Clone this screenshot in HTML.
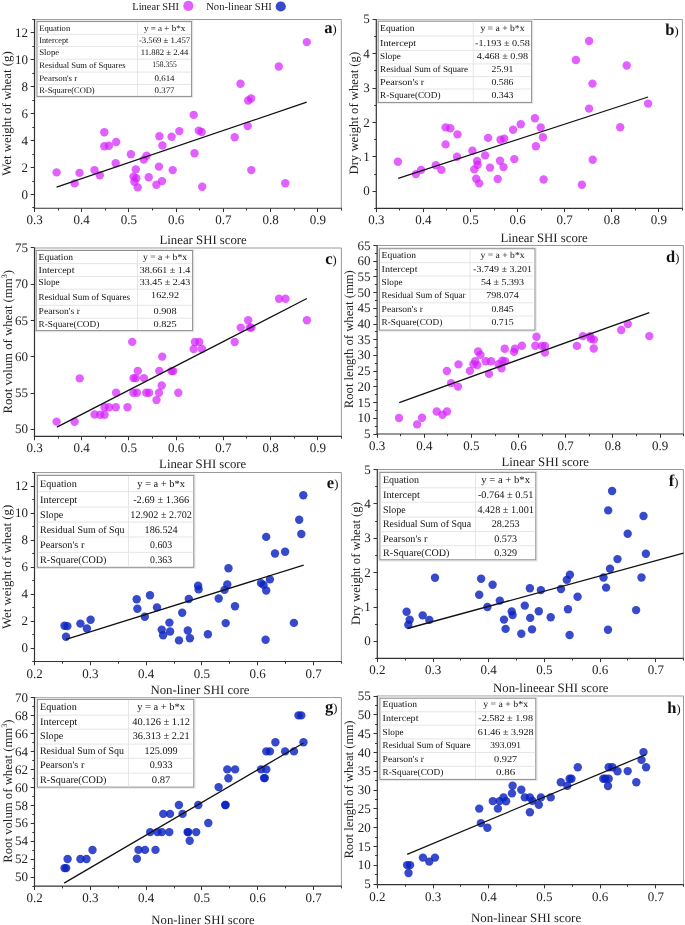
<!DOCTYPE html>
<html><head><meta charset="utf-8"><title>SHI regression plots</title>
<style>
html,body{margin:0;padding:0;background:#fff;}
svg{display:block;font-family:"Liberation Serif", serif;text-rendering:geometricPrecision;will-change:transform;}
</style></head>
<body>
<svg width="685" height="925" viewBox="0 0 685 925">
<rect width="685" height="925" fill="#fff"/>
<path d="M34.50 19.50 H341.30 V208.25" fill="none" stroke="#999" stroke-width="1"/>
<rect x="35.80" y="20.40" width="157.00" height="77.20" fill="none" stroke="#e6e6e6" stroke-width="1"/>
<rect x="37.00" y="21.60" width="154.60" height="74.80" fill="#fff" stroke="#8c8c8c" stroke-width="1"/>
<line x1="37.50" y1="34.40" x2="191.10" y2="34.40" stroke="#e3e3e3" stroke-width="0.9"/>
<line x1="37.50" y1="46.50" x2="191.10" y2="46.50" stroke="#e3e3e3" stroke-width="0.9"/>
<line x1="37.50" y1="59.20" x2="191.10" y2="59.20" stroke="#e3e3e3" stroke-width="0.9"/>
<line x1="37.50" y1="72.10" x2="191.10" y2="72.10" stroke="#e3e3e3" stroke-width="0.9"/>
<line x1="37.50" y1="84.50" x2="191.10" y2="84.50" stroke="#e3e3e3" stroke-width="0.9"/>
<line x1="137.50" y1="22.10" x2="137.50" y2="95.90" stroke="#e3e3e3" stroke-width="0.9"/>
<text x="39.20" y="30.55" font-size="8.5" text-anchor="start" font-weight="normal" fill="#111" textLength="31.0" lengthAdjust="spacingAndGlyphs">Equation</text>
<text x="164.55" y="30.55" font-size="8.5" text-anchor="middle" font-weight="normal" fill="#111" textLength="41.3" lengthAdjust="spacingAndGlyphs">y = a + b*x</text>
<text x="39.20" y="43.00" font-size="8.5" text-anchor="start" font-weight="normal" fill="#111" textLength="29.1" lengthAdjust="spacingAndGlyphs">Intercept</text>
<text x="164.55" y="43.00" font-size="8.5" text-anchor="middle" font-weight="normal" fill="#111" textLength="51.3" lengthAdjust="spacingAndGlyphs">-3.569 ± 1.457</text>
<text x="39.20" y="55.40" font-size="8.5" text-anchor="start" font-weight="normal" fill="#111" textLength="20.0" lengthAdjust="spacingAndGlyphs">Slope</text>
<text x="164.55" y="55.40" font-size="8.5" text-anchor="middle" font-weight="normal" fill="#111" textLength="47.6" lengthAdjust="spacingAndGlyphs">11.882 ± 2.44</text>
<text x="39.20" y="68.20" font-size="8.5" text-anchor="start" font-weight="normal" fill="#111" textLength="86.4" lengthAdjust="spacingAndGlyphs">Residual Sum of Squares</text>
<text x="164.55" y="67.20" font-size="8.5" text-anchor="middle" font-weight="normal" fill="#111" textLength="24.5" lengthAdjust="spacingAndGlyphs">158.355</text>
<text x="39.20" y="80.85" font-size="8.5" text-anchor="start" font-weight="normal" fill="#111" textLength="38.0" lengthAdjust="spacingAndGlyphs">Pearson's r</text>
<text x="164.55" y="80.85" font-size="8.5" text-anchor="middle" font-weight="normal" fill="#111" textLength="20.0" lengthAdjust="spacingAndGlyphs">0.614</text>
<text x="39.20" y="93.00" font-size="8.5" text-anchor="start" font-weight="normal" fill="#111" textLength="55.5" lengthAdjust="spacingAndGlyphs">R-Square(COD)</text>
<text x="164.55" y="93.00" font-size="8.5" text-anchor="middle" font-weight="normal" fill="#111" textLength="20.0" lengthAdjust="spacingAndGlyphs">0.377</text>
<line x1="34.50" y1="19.20" x2="34.50" y2="208.85" stroke="#333" stroke-width="1.2"/>
<line x1="33.90" y1="208.25" x2="341.60" y2="208.25" stroke="#333" stroke-width="1.2"/>
<line x1="30.70" y1="194.50" x2="34.50" y2="194.50" stroke="#333" stroke-width="1.0"/>
<text x="27.90" y="198.52" font-size="13.0" text-anchor="end" font-weight="normal" fill="#222" >0</text>
<line x1="30.70" y1="167.50" x2="34.50" y2="167.50" stroke="#333" stroke-width="1.0"/>
<text x="27.90" y="171.54" font-size="13.0" text-anchor="end" font-weight="normal" fill="#222" >2</text>
<line x1="30.70" y1="140.50" x2="34.50" y2="140.50" stroke="#333" stroke-width="1.0"/>
<text x="27.90" y="144.56" font-size="13.0" text-anchor="end" font-weight="normal" fill="#222" >4</text>
<line x1="30.70" y1="113.50" x2="34.50" y2="113.50" stroke="#333" stroke-width="1.0"/>
<text x="27.90" y="117.58" font-size="13.0" text-anchor="end" font-weight="normal" fill="#222" >6</text>
<line x1="30.70" y1="86.50" x2="34.50" y2="86.50" stroke="#333" stroke-width="1.0"/>
<text x="27.90" y="90.60" font-size="13.0" text-anchor="end" font-weight="normal" fill="#222" >8</text>
<line x1="30.70" y1="59.50" x2="34.50" y2="59.50" stroke="#333" stroke-width="1.0"/>
<text x="27.90" y="63.62" font-size="13.0" text-anchor="end" font-weight="normal" fill="#222" >10</text>
<line x1="30.70" y1="32.50" x2="34.50" y2="32.50" stroke="#333" stroke-width="1.0"/>
<text x="27.90" y="36.64" font-size="13.0" text-anchor="end" font-weight="normal" fill="#222" >12</text>
<line x1="32.30" y1="207.50" x2="34.50" y2="207.50" stroke="#333" stroke-width="1.0"/>
<line x1="32.30" y1="181.50" x2="34.50" y2="181.50" stroke="#333" stroke-width="1.0"/>
<line x1="32.30" y1="154.50" x2="34.50" y2="154.50" stroke="#333" stroke-width="1.0"/>
<line x1="32.30" y1="127.50" x2="34.50" y2="127.50" stroke="#333" stroke-width="1.0"/>
<line x1="32.30" y1="100.50" x2="34.50" y2="100.50" stroke="#333" stroke-width="1.0"/>
<line x1="32.30" y1="73.50" x2="34.50" y2="73.50" stroke="#333" stroke-width="1.0"/>
<line x1="32.30" y1="46.50" x2="34.50" y2="46.50" stroke="#333" stroke-width="1.0"/>
<line x1="32.30" y1="19.50" x2="34.50" y2="19.50" stroke="#333" stroke-width="1.0"/>
<line x1="34.50" y1="208.25" x2="34.50" y2="212.05" stroke="#333" stroke-width="1.0"/>
<text x="34.50" y="224.25" font-size="13.0" text-anchor="middle" font-weight="normal" fill="#222" >0.3</text>
<line x1="81.50" y1="208.25" x2="81.50" y2="212.05" stroke="#333" stroke-width="1.0"/>
<text x="81.72" y="224.25" font-size="13.0" text-anchor="middle" font-weight="normal" fill="#222" >0.4</text>
<line x1="128.50" y1="208.25" x2="128.50" y2="212.05" stroke="#333" stroke-width="1.0"/>
<text x="128.94" y="224.25" font-size="13.0" text-anchor="middle" font-weight="normal" fill="#222" >0.5</text>
<line x1="176.50" y1="208.25" x2="176.50" y2="212.05" stroke="#333" stroke-width="1.0"/>
<text x="176.16" y="224.25" font-size="13.0" text-anchor="middle" font-weight="normal" fill="#222" >0.6</text>
<line x1="223.50" y1="208.25" x2="223.50" y2="212.05" stroke="#333" stroke-width="1.0"/>
<text x="223.38" y="224.25" font-size="13.0" text-anchor="middle" font-weight="normal" fill="#222" >0.7</text>
<line x1="270.50" y1="208.25" x2="270.50" y2="212.05" stroke="#333" stroke-width="1.0"/>
<text x="270.60" y="224.25" font-size="13.0" text-anchor="middle" font-weight="normal" fill="#222" >0.8</text>
<line x1="317.50" y1="208.25" x2="317.50" y2="212.05" stroke="#333" stroke-width="1.0"/>
<text x="317.82" y="224.25" font-size="13.0" text-anchor="middle" font-weight="normal" fill="#222" >0.9</text>
<line x1="58.50" y1="208.25" x2="58.50" y2="210.45" stroke="#333" stroke-width="1.0"/>
<line x1="105.50" y1="208.25" x2="105.50" y2="210.45" stroke="#333" stroke-width="1.0"/>
<line x1="152.50" y1="208.25" x2="152.50" y2="210.45" stroke="#333" stroke-width="1.0"/>
<line x1="199.50" y1="208.25" x2="199.50" y2="210.45" stroke="#333" stroke-width="1.0"/>
<line x1="246.50" y1="208.25" x2="246.50" y2="210.45" stroke="#333" stroke-width="1.0"/>
<line x1="294.50" y1="208.25" x2="294.50" y2="210.45" stroke="#333" stroke-width="1.0"/>
<line x1="341.50" y1="208.25" x2="341.50" y2="210.45" stroke="#333" stroke-width="1.0"/>
<circle cx="56.6" cy="172.4" r="4.2" fill="#d51cff" fill-opacity="0.7"/>
<circle cx="74.6" cy="183.4" r="4.2" fill="#d51cff" fill-opacity="0.7"/>
<circle cx="79.5" cy="172.9" r="4.2" fill="#d51cff" fill-opacity="0.7"/>
<circle cx="94.5" cy="170.1" r="4.2" fill="#d51cff" fill-opacity="0.7"/>
<circle cx="99.8" cy="175.2" r="4.2" fill="#d51cff" fill-opacity="0.7"/>
<circle cx="104.3" cy="132.2" r="4.2" fill="#d51cff" fill-opacity="0.7"/>
<circle cx="104.3" cy="146.3" r="4.2" fill="#d51cff" fill-opacity="0.7"/>
<circle cx="109.0" cy="145.8" r="4.2" fill="#d51cff" fill-opacity="0.7"/>
<circle cx="116.2" cy="142.0" r="4.2" fill="#d51cff" fill-opacity="0.7"/>
<circle cx="115.7" cy="163.3" r="4.2" fill="#d51cff" fill-opacity="0.7"/>
<circle cx="130.9" cy="154.2" r="4.2" fill="#d51cff" fill-opacity="0.7"/>
<circle cx="135.8" cy="169.4" r="4.2" fill="#d51cff" fill-opacity="0.7"/>
<circle cx="133.5" cy="176.6" r="4.2" fill="#d51cff" fill-opacity="0.7"/>
<circle cx="136.3" cy="178.3" r="4.2" fill="#d51cff" fill-opacity="0.7"/>
<circle cx="134.4" cy="181.8" r="4.2" fill="#d51cff" fill-opacity="0.7"/>
<circle cx="137.7" cy="187.4" r="4.2" fill="#d51cff" fill-opacity="0.7"/>
<circle cx="143.8" cy="159.6" r="4.2" fill="#d51cff" fill-opacity="0.7"/>
<circle cx="146.6" cy="155.6" r="4.2" fill="#d51cff" fill-opacity="0.7"/>
<circle cx="148.7" cy="177.3" r="4.2" fill="#d51cff" fill-opacity="0.7"/>
<circle cx="156.4" cy="184.8" r="4.2" fill="#d51cff" fill-opacity="0.7"/>
<circle cx="158.9" cy="166.6" r="4.2" fill="#d51cff" fill-opacity="0.7"/>
<circle cx="159.4" cy="136.2" r="4.2" fill="#d51cff" fill-opacity="0.7"/>
<circle cx="162.0" cy="181.1" r="4.2" fill="#d51cff" fill-opacity="0.7"/>
<circle cx="162.4" cy="145.5" r="4.2" fill="#d51cff" fill-opacity="0.7"/>
<circle cx="171.6" cy="136.7" r="4.2" fill="#d51cff" fill-opacity="0.7"/>
<circle cx="172.7" cy="170.1" r="4.2" fill="#d51cff" fill-opacity="0.7"/>
<circle cx="179.3" cy="131.1" r="4.2" fill="#d51cff" fill-opacity="0.7"/>
<circle cx="193.7" cy="114.9" r="4.2" fill="#d51cff" fill-opacity="0.7"/>
<circle cx="198.8" cy="130.6" r="4.2" fill="#d51cff" fill-opacity="0.7"/>
<circle cx="201.7" cy="132.0" r="4.2" fill="#d51cff" fill-opacity="0.7"/>
<circle cx="194.5" cy="153.2" r="4.2" fill="#d51cff" fill-opacity="0.7"/>
<circle cx="202.2" cy="186.7" r="4.2" fill="#d51cff" fill-opacity="0.7"/>
<circle cx="234.7" cy="137.3" r="4.2" fill="#d51cff" fill-opacity="0.7"/>
<circle cx="240.5" cy="83.8" r="4.2" fill="#d51cff" fill-opacity="0.7"/>
<circle cx="248.2" cy="100.5" r="4.2" fill="#d51cff" fill-opacity="0.7"/>
<circle cx="251.1" cy="98.5" r="4.2" fill="#d51cff" fill-opacity="0.7"/>
<circle cx="247.7" cy="126.0" r="4.2" fill="#d51cff" fill-opacity="0.7"/>
<circle cx="251.3" cy="170.1" r="4.2" fill="#d51cff" fill-opacity="0.7"/>
<circle cx="278.8" cy="66.5" r="4.2" fill="#d51cff" fill-opacity="0.7"/>
<circle cx="285.3" cy="183.3" r="4.2" fill="#d51cff" fill-opacity="0.7"/>
<circle cx="306.8" cy="42.1" r="4.2" fill="#d51cff" fill-opacity="0.7"/>
<line x1="56.60" y1="187.10" x2="306.70" y2="102.20" stroke="#111" stroke-width="1.3"/>
<text x="336.70" y="33.00" text-anchor="end" fill="#111"><tspan font-size="16.5" font-weight="bold">a</tspan><tspan font-size="12.5">)</tspan></text>
<path d="M376.30 19.50 H682.40 V208.30" fill="none" stroke="#999" stroke-width="1"/>
<rect x="377.00" y="20.00" width="155.80" height="83.60" fill="none" stroke="#e6e6e6" stroke-width="1"/>
<rect x="378.20" y="21.20" width="153.40" height="81.20" fill="#fff" stroke="#8c8c8c" stroke-width="1"/>
<line x1="378.70" y1="36.10" x2="531.10" y2="36.10" stroke="#e3e3e3" stroke-width="0.9"/>
<line x1="378.70" y1="50.50" x2="531.10" y2="50.50" stroke="#e3e3e3" stroke-width="0.9"/>
<line x1="378.70" y1="63.90" x2="531.10" y2="63.90" stroke="#e3e3e3" stroke-width="0.9"/>
<line x1="378.70" y1="76.60" x2="531.10" y2="76.60" stroke="#e3e3e3" stroke-width="0.9"/>
<line x1="378.70" y1="89.00" x2="531.10" y2="89.00" stroke="#e3e3e3" stroke-width="0.9"/>
<line x1="473.30" y1="21.70" x2="473.30" y2="101.90" stroke="#e3e3e3" stroke-width="0.9"/>
<text x="380.10" y="30.85" font-size="9.1" text-anchor="start" font-weight="normal" fill="#111" textLength="34.3" lengthAdjust="spacingAndGlyphs">Equation</text>
<text x="502.45" y="30.85" font-size="9.1" text-anchor="middle" font-weight="normal" fill="#111" textLength="44.1" lengthAdjust="spacingAndGlyphs">y = a + b*x</text>
<text x="380.10" y="45.50" font-size="9.1" text-anchor="start" font-weight="normal" fill="#111" textLength="35.9" lengthAdjust="spacingAndGlyphs">Intercept</text>
<text x="502.45" y="45.50" font-size="9.1" text-anchor="middle" font-weight="normal" fill="#111" textLength="54.8" lengthAdjust="spacingAndGlyphs">-1.193 ± 0.58</text>
<text x="380.10" y="59.40" font-size="9.1" text-anchor="start" font-weight="normal" fill="#111" textLength="20.7" lengthAdjust="spacingAndGlyphs">Slope</text>
<text x="502.45" y="59.40" font-size="9.1" text-anchor="middle" font-weight="normal" fill="#111" textLength="51.3" lengthAdjust="spacingAndGlyphs">4.468 ± 0.98</text>
<text x="380.10" y="72.45" font-size="9.1" text-anchor="start" font-weight="normal" fill="#111" textLength="88.0" lengthAdjust="spacingAndGlyphs">Residual Sum of Square</text>
<text x="502.45" y="72.45" font-size="9.1" text-anchor="middle" font-weight="normal" fill="#111" textLength="21.7" lengthAdjust="spacingAndGlyphs">25.91</text>
<text x="380.10" y="85.00" font-size="9.1" text-anchor="start" font-weight="normal" fill="#111" textLength="44.1" lengthAdjust="spacingAndGlyphs">Pearson's r</text>
<text x="502.45" y="85.00" font-size="9.1" text-anchor="middle" font-weight="normal" fill="#111" textLength="22.1" lengthAdjust="spacingAndGlyphs">0.586</text>
<text x="380.10" y="97.90" font-size="9.1" text-anchor="start" font-weight="normal" fill="#111" textLength="60.4" lengthAdjust="spacingAndGlyphs">R-Square(COD)</text>
<text x="502.45" y="97.90" font-size="9.1" text-anchor="middle" font-weight="normal" fill="#111" textLength="22.1" lengthAdjust="spacingAndGlyphs">0.343</text>
<line x1="376.30" y1="19.20" x2="376.30" y2="208.90" stroke="#333" stroke-width="1.2"/>
<line x1="375.70" y1="208.30" x2="682.70" y2="208.30" stroke="#333" stroke-width="1.2"/>
<line x1="372.50" y1="191.50" x2="376.30" y2="191.50" stroke="#333" stroke-width="1.0"/>
<text x="369.70" y="195.22" font-size="13.0" text-anchor="end" font-weight="normal" fill="#222" >0</text>
<line x1="372.50" y1="156.50" x2="376.30" y2="156.50" stroke="#333" stroke-width="1.0"/>
<text x="369.70" y="160.86" font-size="13.0" text-anchor="end" font-weight="normal" fill="#222" >1</text>
<line x1="372.50" y1="122.50" x2="376.30" y2="122.50" stroke="#333" stroke-width="1.0"/>
<text x="369.70" y="126.50" font-size="13.0" text-anchor="end" font-weight="normal" fill="#222" >2</text>
<line x1="372.50" y1="88.50" x2="376.30" y2="88.50" stroke="#333" stroke-width="1.0"/>
<text x="369.70" y="92.14" font-size="13.0" text-anchor="end" font-weight="normal" fill="#222" >3</text>
<line x1="372.50" y1="53.50" x2="376.30" y2="53.50" stroke="#333" stroke-width="1.0"/>
<text x="369.70" y="57.78" font-size="13.0" text-anchor="end" font-weight="normal" fill="#222" >4</text>
<line x1="372.50" y1="19.50" x2="376.30" y2="19.50" stroke="#333" stroke-width="1.0"/>
<text x="369.70" y="23.42" font-size="13.0" text-anchor="end" font-weight="normal" fill="#222" >5</text>
<line x1="374.10" y1="208.50" x2="376.30" y2="208.50" stroke="#333" stroke-width="1.0"/>
<line x1="374.10" y1="174.50" x2="376.30" y2="174.50" stroke="#333" stroke-width="1.0"/>
<line x1="374.10" y1="139.50" x2="376.30" y2="139.50" stroke="#333" stroke-width="1.0"/>
<line x1="374.10" y1="105.50" x2="376.30" y2="105.50" stroke="#333" stroke-width="1.0"/>
<line x1="374.10" y1="70.50" x2="376.30" y2="70.50" stroke="#333" stroke-width="1.0"/>
<line x1="374.10" y1="36.50" x2="376.30" y2="36.50" stroke="#333" stroke-width="1.0"/>
<line x1="376.50" y1="208.30" x2="376.50" y2="212.10" stroke="#333" stroke-width="1.0"/>
<text x="376.30" y="224.30" font-size="13.0" text-anchor="middle" font-weight="normal" fill="#222" >0.3</text>
<line x1="423.50" y1="208.30" x2="423.50" y2="212.10" stroke="#333" stroke-width="1.0"/>
<text x="423.40" y="224.30" font-size="13.0" text-anchor="middle" font-weight="normal" fill="#222" >0.4</text>
<line x1="470.50" y1="208.30" x2="470.50" y2="212.10" stroke="#333" stroke-width="1.0"/>
<text x="470.50" y="224.30" font-size="13.0" text-anchor="middle" font-weight="normal" fill="#222" >0.5</text>
<line x1="517.50" y1="208.30" x2="517.50" y2="212.10" stroke="#333" stroke-width="1.0"/>
<text x="517.60" y="224.30" font-size="13.0" text-anchor="middle" font-weight="normal" fill="#222" >0.6</text>
<line x1="564.50" y1="208.30" x2="564.50" y2="212.10" stroke="#333" stroke-width="1.0"/>
<text x="564.70" y="224.30" font-size="13.0" text-anchor="middle" font-weight="normal" fill="#222" >0.7</text>
<line x1="611.50" y1="208.30" x2="611.50" y2="212.10" stroke="#333" stroke-width="1.0"/>
<text x="611.80" y="224.30" font-size="13.0" text-anchor="middle" font-weight="normal" fill="#222" >0.8</text>
<line x1="658.50" y1="208.30" x2="658.50" y2="212.10" stroke="#333" stroke-width="1.0"/>
<text x="658.90" y="224.30" font-size="13.0" text-anchor="middle" font-weight="normal" fill="#222" >0.9</text>
<line x1="399.50" y1="208.30" x2="399.50" y2="210.50" stroke="#333" stroke-width="1.0"/>
<line x1="446.50" y1="208.30" x2="446.50" y2="210.50" stroke="#333" stroke-width="1.0"/>
<line x1="494.50" y1="208.30" x2="494.50" y2="210.50" stroke="#333" stroke-width="1.0"/>
<line x1="541.50" y1="208.30" x2="541.50" y2="210.50" stroke="#333" stroke-width="1.0"/>
<line x1="588.50" y1="208.30" x2="588.50" y2="210.50" stroke="#333" stroke-width="1.0"/>
<line x1="635.50" y1="208.30" x2="635.50" y2="210.50" stroke="#333" stroke-width="1.0"/>
<line x1="682.50" y1="208.30" x2="682.50" y2="210.50" stroke="#333" stroke-width="1.0"/>
<circle cx="397.9" cy="161.7" r="4.2" fill="#d51cff" fill-opacity="0.7"/>
<circle cx="415.9" cy="174.1" r="4.2" fill="#d51cff" fill-opacity="0.7"/>
<circle cx="421.1" cy="169.9" r="4.2" fill="#d51cff" fill-opacity="0.7"/>
<circle cx="435.8" cy="165.2" r="4.2" fill="#d51cff" fill-opacity="0.7"/>
<circle cx="441.4" cy="169.9" r="4.2" fill="#d51cff" fill-opacity="0.7"/>
<circle cx="445.6" cy="127.4" r="4.2" fill="#d51cff" fill-opacity="0.7"/>
<circle cx="445.6" cy="144.4" r="4.2" fill="#d51cff" fill-opacity="0.7"/>
<circle cx="450.3" cy="128.3" r="4.2" fill="#d51cff" fill-opacity="0.7"/>
<circle cx="457.5" cy="134.4" r="4.2" fill="#d51cff" fill-opacity="0.7"/>
<circle cx="457.0" cy="156.8" r="4.2" fill="#d51cff" fill-opacity="0.7"/>
<circle cx="472.4" cy="150.7" r="4.2" fill="#d51cff" fill-opacity="0.7"/>
<circle cx="477.1" cy="161.0" r="4.2" fill="#d51cff" fill-opacity="0.7"/>
<circle cx="477.6" cy="164.7" r="4.2" fill="#d51cff" fill-opacity="0.7"/>
<circle cx="474.3" cy="169.4" r="4.2" fill="#d51cff" fill-opacity="0.7"/>
<circle cx="476.2" cy="178.8" r="4.2" fill="#d51cff" fill-opacity="0.7"/>
<circle cx="479.2" cy="183.4" r="4.2" fill="#d51cff" fill-opacity="0.7"/>
<circle cx="485.1" cy="155.4" r="4.2" fill="#d51cff" fill-opacity="0.7"/>
<circle cx="488.1" cy="137.9" r="4.2" fill="#d51cff" fill-opacity="0.7"/>
<circle cx="490.0" cy="167.6" r="4.2" fill="#d51cff" fill-opacity="0.7"/>
<circle cx="497.7" cy="179.0" r="4.2" fill="#d51cff" fill-opacity="0.7"/>
<circle cx="500.0" cy="160.8" r="4.2" fill="#d51cff" fill-opacity="0.7"/>
<circle cx="500.5" cy="139.8" r="4.2" fill="#d51cff" fill-opacity="0.7"/>
<circle cx="503.5" cy="167.1" r="4.2" fill="#d51cff" fill-opacity="0.7"/>
<circle cx="504.2" cy="138.6" r="4.2" fill="#d51cff" fill-opacity="0.7"/>
<circle cx="513.1" cy="129.7" r="4.2" fill="#d51cff" fill-opacity="0.7"/>
<circle cx="514.3" cy="159.1" r="4.2" fill="#d51cff" fill-opacity="0.7"/>
<circle cx="520.8" cy="124.3" r="4.2" fill="#d51cff" fill-opacity="0.7"/>
<circle cx="534.9" cy="118.3" r="4.2" fill="#d51cff" fill-opacity="0.7"/>
<circle cx="540.7" cy="127.4" r="4.2" fill="#d51cff" fill-opacity="0.7"/>
<circle cx="542.9" cy="137.3" r="4.2" fill="#d51cff" fill-opacity="0.7"/>
<circle cx="535.9" cy="146.2" r="4.2" fill="#d51cff" fill-opacity="0.7"/>
<circle cx="543.6" cy="179.5" r="4.2" fill="#d51cff" fill-opacity="0.7"/>
<circle cx="575.9" cy="60.0" r="4.2" fill="#d51cff" fill-opacity="0.7"/>
<circle cx="589.1" cy="41.0" r="4.2" fill="#d51cff" fill-opacity="0.7"/>
<circle cx="589.1" cy="108.6" r="4.2" fill="#d51cff" fill-opacity="0.7"/>
<circle cx="592.5" cy="83.6" r="4.2" fill="#d51cff" fill-opacity="0.7"/>
<circle cx="592.7" cy="159.7" r="4.2" fill="#d51cff" fill-opacity="0.7"/>
<circle cx="581.9" cy="184.8" r="4.2" fill="#d51cff" fill-opacity="0.7"/>
<circle cx="626.7" cy="65.5" r="4.2" fill="#d51cff" fill-opacity="0.7"/>
<circle cx="620.2" cy="127.2" r="4.2" fill="#d51cff" fill-opacity="0.7"/>
<circle cx="648.1" cy="103.6" r="4.2" fill="#d51cff" fill-opacity="0.7"/>
<line x1="398.20" y1="178.30" x2="648.10" y2="97.00" stroke="#111" stroke-width="1.3"/>
<text x="678.70" y="34.80" text-anchor="end" fill="#111"><tspan font-size="16.5" font-weight="bold">b</tspan><tspan font-size="12.5">)</tspan></text>
<path d="M34.50 248.00 H341.40 V436.40" fill="none" stroke="#999" stroke-width="1"/>
<rect x="35.00" y="249.30" width="158.80" height="82.50" fill="none" stroke="#e6e6e6" stroke-width="1"/>
<rect x="36.20" y="250.50" width="156.40" height="80.10" fill="#fff" stroke="#8c8c8c" stroke-width="1"/>
<line x1="36.70" y1="263.60" x2="192.10" y2="263.60" stroke="#e3e3e3" stroke-width="0.9"/>
<line x1="36.70" y1="276.50" x2="192.10" y2="276.50" stroke="#e3e3e3" stroke-width="0.9"/>
<line x1="36.70" y1="289.20" x2="192.10" y2="289.20" stroke="#e3e3e3" stroke-width="0.9"/>
<line x1="36.70" y1="305.30" x2="192.10" y2="305.30" stroke="#e3e3e3" stroke-width="0.9"/>
<line x1="36.70" y1="318.20" x2="192.10" y2="318.20" stroke="#e3e3e3" stroke-width="0.9"/>
<line x1="137.50" y1="251.00" x2="137.50" y2="330.10" stroke="#e3e3e3" stroke-width="0.9"/>
<text x="38.60" y="259.50" font-size="9.2" text-anchor="start" font-weight="normal" fill="#111" textLength="34.3" lengthAdjust="spacingAndGlyphs">Equation</text>
<text x="165.05" y="259.50" font-size="9.2" text-anchor="middle" font-weight="normal" fill="#111" textLength="44.1" lengthAdjust="spacingAndGlyphs">y = a + b*x</text>
<text x="38.60" y="272.50" font-size="9.2" text-anchor="start" font-weight="normal" fill="#111" textLength="35.9" lengthAdjust="spacingAndGlyphs">Intercept</text>
<text x="165.05" y="272.50" font-size="9.2" text-anchor="middle" font-weight="normal" fill="#111" textLength="50.6" lengthAdjust="spacingAndGlyphs">38.661 ± 1.4</text>
<text x="38.60" y="285.30" font-size="9.2" text-anchor="start" font-weight="normal" fill="#111" textLength="21.0" lengthAdjust="spacingAndGlyphs">Slope</text>
<text x="165.05" y="285.30" font-size="9.2" text-anchor="middle" font-weight="normal" fill="#111" textLength="50.6" lengthAdjust="spacingAndGlyphs">33.45 ± 2.43</text>
<text x="38.60" y="299.70" font-size="9.2" text-anchor="start" font-weight="normal" fill="#111" textLength="91.5" lengthAdjust="spacingAndGlyphs">Residual Sum of Squares</text>
<text x="165.05" y="298.20" font-size="9.2" text-anchor="middle" font-weight="normal" fill="#111" textLength="28.0" lengthAdjust="spacingAndGlyphs">162.92</text>
<text x="38.60" y="314.20" font-size="9.2" text-anchor="start" font-weight="normal" fill="#111" textLength="41.3" lengthAdjust="spacingAndGlyphs">Pearson's r</text>
<text x="165.05" y="314.20" font-size="9.2" text-anchor="middle" font-weight="normal" fill="#111" textLength="23.1" lengthAdjust="spacingAndGlyphs">0.908</text>
<text x="38.60" y="326.85" font-size="9.2" text-anchor="start" font-weight="normal" fill="#111" textLength="60.7" lengthAdjust="spacingAndGlyphs">R-Square(COD)</text>
<text x="165.05" y="326.85" font-size="9.2" text-anchor="middle" font-weight="normal" fill="#111" textLength="23.1" lengthAdjust="spacingAndGlyphs">0.825</text>
<line x1="34.50" y1="247.70" x2="34.50" y2="437.00" stroke="#333" stroke-width="1.2"/>
<line x1="33.90" y1="436.40" x2="341.70" y2="436.40" stroke="#333" stroke-width="1.2"/>
<line x1="30.70" y1="429.50" x2="34.50" y2="429.50" stroke="#333" stroke-width="1.0"/>
<text x="27.90" y="433.42" font-size="13.0" text-anchor="end" font-weight="normal" fill="#222" >50</text>
<line x1="30.70" y1="393.50" x2="34.50" y2="393.50" stroke="#333" stroke-width="1.0"/>
<text x="27.90" y="397.14" font-size="13.0" text-anchor="end" font-weight="normal" fill="#222" >55</text>
<line x1="30.70" y1="356.50" x2="34.50" y2="356.50" stroke="#333" stroke-width="1.0"/>
<text x="27.90" y="360.86" font-size="13.0" text-anchor="end" font-weight="normal" fill="#222" >60</text>
<line x1="30.70" y1="320.50" x2="34.50" y2="320.50" stroke="#333" stroke-width="1.0"/>
<text x="27.90" y="324.58" font-size="13.0" text-anchor="end" font-weight="normal" fill="#222" >65</text>
<line x1="30.70" y1="284.50" x2="34.50" y2="284.50" stroke="#333" stroke-width="1.0"/>
<text x="27.90" y="288.30" font-size="13.0" text-anchor="end" font-weight="normal" fill="#222" >70</text>
<line x1="30.70" y1="247.50" x2="34.50" y2="247.50" stroke="#333" stroke-width="1.0"/>
<text x="27.90" y="252.02" font-size="13.0" text-anchor="end" font-weight="normal" fill="#222" >75</text>
<line x1="34.50" y1="436.40" x2="34.50" y2="440.20" stroke="#333" stroke-width="1.0"/>
<text x="34.50" y="452.40" font-size="13.0" text-anchor="middle" font-weight="normal" fill="#222" >0.3</text>
<line x1="81.50" y1="436.40" x2="81.50" y2="440.20" stroke="#333" stroke-width="1.0"/>
<text x="81.72" y="452.40" font-size="13.0" text-anchor="middle" font-weight="normal" fill="#222" >0.4</text>
<line x1="128.50" y1="436.40" x2="128.50" y2="440.20" stroke="#333" stroke-width="1.0"/>
<text x="128.94" y="452.40" font-size="13.0" text-anchor="middle" font-weight="normal" fill="#222" >0.5</text>
<line x1="176.50" y1="436.40" x2="176.50" y2="440.20" stroke="#333" stroke-width="1.0"/>
<text x="176.16" y="452.40" font-size="13.0" text-anchor="middle" font-weight="normal" fill="#222" >0.6</text>
<line x1="223.50" y1="436.40" x2="223.50" y2="440.20" stroke="#333" stroke-width="1.0"/>
<text x="223.38" y="452.40" font-size="13.0" text-anchor="middle" font-weight="normal" fill="#222" >0.7</text>
<line x1="270.50" y1="436.40" x2="270.50" y2="440.20" stroke="#333" stroke-width="1.0"/>
<text x="270.60" y="452.40" font-size="13.0" text-anchor="middle" font-weight="normal" fill="#222" >0.8</text>
<line x1="317.50" y1="436.40" x2="317.50" y2="440.20" stroke="#333" stroke-width="1.0"/>
<text x="317.82" y="452.40" font-size="13.0" text-anchor="middle" font-weight="normal" fill="#222" >0.9</text>
<line x1="58.50" y1="436.40" x2="58.50" y2="438.60" stroke="#333" stroke-width="1.0"/>
<line x1="105.50" y1="436.40" x2="105.50" y2="438.60" stroke="#333" stroke-width="1.0"/>
<line x1="152.50" y1="436.40" x2="152.50" y2="438.60" stroke="#333" stroke-width="1.0"/>
<line x1="199.50" y1="436.40" x2="199.50" y2="438.60" stroke="#333" stroke-width="1.0"/>
<line x1="246.50" y1="436.40" x2="246.50" y2="438.60" stroke="#333" stroke-width="1.0"/>
<line x1="294.50" y1="436.40" x2="294.50" y2="438.60" stroke="#333" stroke-width="1.0"/>
<line x1="341.50" y1="436.40" x2="341.50" y2="438.60" stroke="#333" stroke-width="1.0"/>
<circle cx="56.6" cy="421.6" r="4.2" fill="#d51cff" fill-opacity="0.7"/>
<circle cx="74.6" cy="421.8" r="4.2" fill="#d51cff" fill-opacity="0.7"/>
<circle cx="79.7" cy="378.4" r="4.2" fill="#d51cff" fill-opacity="0.7"/>
<circle cx="94.6" cy="414.5" r="4.2" fill="#d51cff" fill-opacity="0.7"/>
<circle cx="100.2" cy="414.8" r="4.2" fill="#d51cff" fill-opacity="0.7"/>
<circle cx="104.6" cy="414.8" r="4.2" fill="#d51cff" fill-opacity="0.7"/>
<circle cx="104.6" cy="407.3" r="4.2" fill="#d51cff" fill-opacity="0.7"/>
<circle cx="109.0" cy="407.3" r="4.2" fill="#d51cff" fill-opacity="0.7"/>
<circle cx="115.8" cy="407.3" r="4.2" fill="#d51cff" fill-opacity="0.7"/>
<circle cx="116.1" cy="392.7" r="4.2" fill="#d51cff" fill-opacity="0.7"/>
<circle cx="127.5" cy="407.3" r="4.2" fill="#d51cff" fill-opacity="0.7"/>
<circle cx="132.2" cy="341.9" r="4.2" fill="#d51cff" fill-opacity="0.7"/>
<circle cx="133.4" cy="392.7" r="4.2" fill="#d51cff" fill-opacity="0.7"/>
<circle cx="136.9" cy="392.7" r="4.2" fill="#d51cff" fill-opacity="0.7"/>
<circle cx="133.5" cy="378.1" r="4.2" fill="#d51cff" fill-opacity="0.7"/>
<circle cx="135.8" cy="378.1" r="4.2" fill="#d51cff" fill-opacity="0.7"/>
<circle cx="137.8" cy="370.9" r="4.2" fill="#d51cff" fill-opacity="0.7"/>
<circle cx="143.9" cy="378.1" r="4.2" fill="#d51cff" fill-opacity="0.7"/>
<circle cx="146.2" cy="392.7" r="4.2" fill="#d51cff" fill-opacity="0.7"/>
<circle cx="149.1" cy="392.7" r="4.2" fill="#d51cff" fill-opacity="0.7"/>
<circle cx="156.5" cy="400.1" r="4.2" fill="#d51cff" fill-opacity="0.7"/>
<circle cx="159.0" cy="392.7" r="4.2" fill="#d51cff" fill-opacity="0.7"/>
<circle cx="161.7" cy="385.5" r="4.2" fill="#d51cff" fill-opacity="0.7"/>
<circle cx="159.3" cy="370.9" r="4.2" fill="#d51cff" fill-opacity="0.7"/>
<circle cx="162.2" cy="356.6" r="4.2" fill="#d51cff" fill-opacity="0.7"/>
<circle cx="171.5" cy="371.1" r="4.2" fill="#d51cff" fill-opacity="0.7"/>
<circle cx="173.3" cy="371.1" r="4.2" fill="#d51cff" fill-opacity="0.7"/>
<circle cx="178.3" cy="392.7" r="4.2" fill="#d51cff" fill-opacity="0.7"/>
<circle cx="194.9" cy="342.0" r="4.2" fill="#d51cff" fill-opacity="0.7"/>
<circle cx="199.3" cy="342.0" r="4.2" fill="#d51cff" fill-opacity="0.7"/>
<circle cx="193.7" cy="349.0" r="4.2" fill="#d51cff" fill-opacity="0.7"/>
<circle cx="201.9" cy="349.0" r="4.2" fill="#d51cff" fill-opacity="0.7"/>
<circle cx="234.7" cy="342.0" r="4.2" fill="#d51cff" fill-opacity="0.7"/>
<circle cx="240.7" cy="327.6" r="4.2" fill="#d51cff" fill-opacity="0.7"/>
<circle cx="248.2" cy="320.3" r="4.2" fill="#d51cff" fill-opacity="0.7"/>
<circle cx="249.9" cy="327.6" r="4.2" fill="#d51cff" fill-opacity="0.7"/>
<circle cx="251.5" cy="327.6" r="4.2" fill="#d51cff" fill-opacity="0.7"/>
<circle cx="279.0" cy="298.7" r="4.2" fill="#d51cff" fill-opacity="0.7"/>
<circle cx="285.5" cy="298.7" r="4.2" fill="#d51cff" fill-opacity="0.7"/>
<circle cx="306.9" cy="320.3" r="4.2" fill="#d51cff" fill-opacity="0.7"/>
<line x1="56.90" y1="427.10" x2="306.90" y2="298.50" stroke="#111" stroke-width="1.3"/>
<text x="336.70" y="263.80" text-anchor="end" fill="#111"><tspan font-size="16.5" font-weight="bold">c</tspan><tspan font-size="12.5">)</tspan></text>
<path d="M377.10 245.50 H683.40 V434.00" fill="none" stroke="#999" stroke-width="1"/>
<rect x="378.20" y="247.50" width="158.00" height="83.80" fill="none" stroke="#e6e6e6" stroke-width="1"/>
<rect x="379.40" y="248.70" width="155.60" height="81.40" fill="#fff" stroke="#8c8c8c" stroke-width="1"/>
<line x1="379.90" y1="262.60" x2="534.50" y2="262.60" stroke="#e3e3e3" stroke-width="0.9"/>
<line x1="379.90" y1="276.00" x2="534.50" y2="276.00" stroke="#e3e3e3" stroke-width="0.9"/>
<line x1="379.90" y1="289.20" x2="534.50" y2="289.20" stroke="#e3e3e3" stroke-width="0.9"/>
<line x1="379.90" y1="302.80" x2="534.50" y2="302.80" stroke="#e3e3e3" stroke-width="0.9"/>
<line x1="379.90" y1="316.00" x2="534.50" y2="316.00" stroke="#e3e3e3" stroke-width="0.9"/>
<line x1="470.00" y1="249.20" x2="470.00" y2="329.60" stroke="#e3e3e3" stroke-width="0.9"/>
<text x="381.60" y="258.05" font-size="9.2" text-anchor="start" font-weight="normal" fill="#111" textLength="34.3" lengthAdjust="spacingAndGlyphs">Equation</text>
<text x="502.50" y="258.05" font-size="9.2" text-anchor="middle" font-weight="normal" fill="#111" textLength="44.1" lengthAdjust="spacingAndGlyphs">y = a + b*x</text>
<text x="381.60" y="271.70" font-size="9.2" text-anchor="start" font-weight="normal" fill="#111" textLength="35.9" lengthAdjust="spacingAndGlyphs">Intercept</text>
<text x="502.50" y="271.70" font-size="9.2" text-anchor="middle" font-weight="normal" fill="#111" textLength="58.8" lengthAdjust="spacingAndGlyphs">-3.749 ± 3.201</text>
<text x="381.60" y="285.00" font-size="9.2" text-anchor="start" font-weight="normal" fill="#111" textLength="21.0" lengthAdjust="spacingAndGlyphs">Slope</text>
<text x="502.50" y="285.00" font-size="9.2" text-anchor="middle" font-weight="normal" fill="#111" textLength="42.9" lengthAdjust="spacingAndGlyphs">54 ± 5.393</text>
<text x="381.60" y="298.40" font-size="9.2" text-anchor="start" font-weight="normal" fill="#111" textLength="84.0" lengthAdjust="spacingAndGlyphs">Residual Sum of Squar</text>
<text x="502.50" y="298.40" font-size="9.2" text-anchor="middle" font-weight="normal" fill="#111" textLength="32.6" lengthAdjust="spacingAndGlyphs">798.074</text>
<text x="381.60" y="311.80" font-size="9.2" text-anchor="start" font-weight="normal" fill="#111" textLength="41.3" lengthAdjust="spacingAndGlyphs">Pearson's r</text>
<text x="502.50" y="311.80" font-size="9.2" text-anchor="middle" font-weight="normal" fill="#111" textLength="22.1" lengthAdjust="spacingAndGlyphs">0.845</text>
<text x="381.60" y="325.45" font-size="9.2" text-anchor="start" font-weight="normal" fill="#111" textLength="60.7" lengthAdjust="spacingAndGlyphs">R-Square(COD)</text>
<text x="502.50" y="325.45" font-size="9.2" text-anchor="middle" font-weight="normal" fill="#111" textLength="22.1" lengthAdjust="spacingAndGlyphs">0.715</text>
<line x1="377.10" y1="245.20" x2="377.10" y2="434.60" stroke="#333" stroke-width="1.2"/>
<line x1="376.50" y1="434.00" x2="683.70" y2="434.00" stroke="#333" stroke-width="1.2"/>
<line x1="373.30" y1="434.50" x2="377.10" y2="434.50" stroke="#333" stroke-width="1.0"/>
<text x="370.50" y="438.03" font-size="13.0" text-anchor="end" font-weight="normal" fill="#222" >5</text>
<line x1="373.30" y1="418.50" x2="377.10" y2="418.50" stroke="#333" stroke-width="1.0"/>
<text x="370.50" y="422.32" font-size="13.0" text-anchor="end" font-weight="normal" fill="#222" >10</text>
<line x1="373.30" y1="402.50" x2="377.10" y2="402.50" stroke="#333" stroke-width="1.0"/>
<text x="370.50" y="406.61" font-size="13.0" text-anchor="end" font-weight="normal" fill="#222" >15</text>
<line x1="373.30" y1="386.50" x2="377.10" y2="386.50" stroke="#333" stroke-width="1.0"/>
<text x="370.50" y="390.90" font-size="13.0" text-anchor="end" font-weight="normal" fill="#222" >20</text>
<line x1="373.30" y1="371.50" x2="377.10" y2="371.50" stroke="#333" stroke-width="1.0"/>
<text x="370.50" y="375.19" font-size="13.0" text-anchor="end" font-weight="normal" fill="#222" >25</text>
<line x1="373.30" y1="355.50" x2="377.10" y2="355.50" stroke="#333" stroke-width="1.0"/>
<text x="370.50" y="359.48" font-size="13.0" text-anchor="end" font-weight="normal" fill="#222" >30</text>
<line x1="373.30" y1="339.50" x2="377.10" y2="339.50" stroke="#333" stroke-width="1.0"/>
<text x="370.50" y="343.77" font-size="13.0" text-anchor="end" font-weight="normal" fill="#222" >35</text>
<line x1="373.30" y1="324.50" x2="377.10" y2="324.50" stroke="#333" stroke-width="1.0"/>
<text x="370.50" y="328.06" font-size="13.0" text-anchor="end" font-weight="normal" fill="#222" >40</text>
<line x1="373.30" y1="308.50" x2="377.10" y2="308.50" stroke="#333" stroke-width="1.0"/>
<text x="370.50" y="312.35" font-size="13.0" text-anchor="end" font-weight="normal" fill="#222" >45</text>
<line x1="373.30" y1="292.50" x2="377.10" y2="292.50" stroke="#333" stroke-width="1.0"/>
<text x="370.50" y="296.64" font-size="13.0" text-anchor="end" font-weight="normal" fill="#222" >50</text>
<line x1="373.30" y1="276.50" x2="377.10" y2="276.50" stroke="#333" stroke-width="1.0"/>
<text x="370.50" y="280.93" font-size="13.0" text-anchor="end" font-weight="normal" fill="#222" >55</text>
<line x1="373.30" y1="261.50" x2="377.10" y2="261.50" stroke="#333" stroke-width="1.0"/>
<text x="370.50" y="265.22" font-size="13.0" text-anchor="end" font-weight="normal" fill="#222" >60</text>
<line x1="373.30" y1="245.50" x2="377.10" y2="245.50" stroke="#333" stroke-width="1.0"/>
<text x="370.50" y="249.51" font-size="13.0" text-anchor="end" font-weight="normal" fill="#222" >65</text>
<line x1="374.90" y1="426.50" x2="377.10" y2="426.50" stroke="#333" stroke-width="1.0"/>
<line x1="374.90" y1="410.50" x2="377.10" y2="410.50" stroke="#333" stroke-width="1.0"/>
<line x1="374.90" y1="394.50" x2="377.10" y2="394.50" stroke="#333" stroke-width="1.0"/>
<line x1="374.90" y1="379.50" x2="377.10" y2="379.50" stroke="#333" stroke-width="1.0"/>
<line x1="374.90" y1="363.50" x2="377.10" y2="363.50" stroke="#333" stroke-width="1.0"/>
<line x1="374.90" y1="347.50" x2="377.10" y2="347.50" stroke="#333" stroke-width="1.0"/>
<line x1="374.90" y1="331.50" x2="377.10" y2="331.50" stroke="#333" stroke-width="1.0"/>
<line x1="374.90" y1="316.50" x2="377.10" y2="316.50" stroke="#333" stroke-width="1.0"/>
<line x1="374.90" y1="300.50" x2="377.10" y2="300.50" stroke="#333" stroke-width="1.0"/>
<line x1="374.90" y1="284.50" x2="377.10" y2="284.50" stroke="#333" stroke-width="1.0"/>
<line x1="374.90" y1="269.50" x2="377.10" y2="269.50" stroke="#333" stroke-width="1.0"/>
<line x1="374.90" y1="253.50" x2="377.10" y2="253.50" stroke="#333" stroke-width="1.0"/>
<line x1="377.50" y1="434.00" x2="377.50" y2="437.80" stroke="#333" stroke-width="1.0"/>
<text x="377.10" y="450.00" font-size="13.0" text-anchor="middle" font-weight="normal" fill="#222" >0.3</text>
<line x1="424.50" y1="434.00" x2="424.50" y2="437.80" stroke="#333" stroke-width="1.0"/>
<text x="424.26" y="450.00" font-size="13.0" text-anchor="middle" font-weight="normal" fill="#222" >0.4</text>
<line x1="471.50" y1="434.00" x2="471.50" y2="437.80" stroke="#333" stroke-width="1.0"/>
<text x="471.42" y="450.00" font-size="13.0" text-anchor="middle" font-weight="normal" fill="#222" >0.5</text>
<line x1="518.50" y1="434.00" x2="518.50" y2="437.80" stroke="#333" stroke-width="1.0"/>
<text x="518.58" y="450.00" font-size="13.0" text-anchor="middle" font-weight="normal" fill="#222" >0.6</text>
<line x1="565.50" y1="434.00" x2="565.50" y2="437.80" stroke="#333" stroke-width="1.0"/>
<text x="565.74" y="450.00" font-size="13.0" text-anchor="middle" font-weight="normal" fill="#222" >0.7</text>
<line x1="612.50" y1="434.00" x2="612.50" y2="437.80" stroke="#333" stroke-width="1.0"/>
<text x="612.90" y="450.00" font-size="13.0" text-anchor="middle" font-weight="normal" fill="#222" >0.8</text>
<line x1="660.50" y1="434.00" x2="660.50" y2="437.80" stroke="#333" stroke-width="1.0"/>
<text x="660.06" y="450.00" font-size="13.0" text-anchor="middle" font-weight="normal" fill="#222" >0.9</text>
<line x1="400.50" y1="434.00" x2="400.50" y2="436.20" stroke="#333" stroke-width="1.0"/>
<line x1="447.50" y1="434.00" x2="447.50" y2="436.20" stroke="#333" stroke-width="1.0"/>
<line x1="495.50" y1="434.00" x2="495.50" y2="436.20" stroke="#333" stroke-width="1.0"/>
<line x1="542.50" y1="434.00" x2="542.50" y2="436.20" stroke="#333" stroke-width="1.0"/>
<line x1="589.50" y1="434.00" x2="589.50" y2="436.20" stroke="#333" stroke-width="1.0"/>
<line x1="636.50" y1="434.00" x2="636.50" y2="436.20" stroke="#333" stroke-width="1.0"/>
<line x1="683.50" y1="434.00" x2="683.50" y2="436.20" stroke="#333" stroke-width="1.0"/>
<circle cx="399.0" cy="418.0" r="4.2" fill="#d51cff" fill-opacity="0.7"/>
<circle cx="417.1" cy="424.4" r="4.2" fill="#d51cff" fill-opacity="0.7"/>
<circle cx="422.0" cy="417.8" r="4.2" fill="#d51cff" fill-opacity="0.7"/>
<circle cx="436.7" cy="411.5" r="4.2" fill="#d51cff" fill-opacity="0.7"/>
<circle cx="442.5" cy="414.8" r="4.2" fill="#d51cff" fill-opacity="0.7"/>
<circle cx="447.0" cy="411.5" r="4.2" fill="#d51cff" fill-opacity="0.7"/>
<circle cx="446.9" cy="371.0" r="4.2" fill="#d51cff" fill-opacity="0.7"/>
<circle cx="451.1" cy="383.1" r="4.2" fill="#d51cff" fill-opacity="0.7"/>
<circle cx="458.5" cy="364.4" r="4.2" fill="#d51cff" fill-opacity="0.7"/>
<circle cx="458.0" cy="386.6" r="4.2" fill="#d51cff" fill-opacity="0.7"/>
<circle cx="469.9" cy="370.9" r="4.2" fill="#d51cff" fill-opacity="0.7"/>
<circle cx="473.4" cy="364.2" r="4.2" fill="#d51cff" fill-opacity="0.7"/>
<circle cx="475.2" cy="361.3" r="4.2" fill="#d51cff" fill-opacity="0.7"/>
<circle cx="477.3" cy="365.1" r="4.2" fill="#d51cff" fill-opacity="0.7"/>
<circle cx="478.1" cy="351.4" r="4.2" fill="#d51cff" fill-opacity="0.7"/>
<circle cx="480.4" cy="354.9" r="4.2" fill="#d51cff" fill-opacity="0.7"/>
<circle cx="485.7" cy="361.3" r="4.2" fill="#d51cff" fill-opacity="0.7"/>
<circle cx="491.0" cy="361.3" r="4.2" fill="#d51cff" fill-opacity="0.7"/>
<circle cx="489.0" cy="373.9" r="4.2" fill="#d51cff" fill-opacity="0.7"/>
<circle cx="498.5" cy="364.2" r="4.2" fill="#d51cff" fill-opacity="0.7"/>
<circle cx="501.5" cy="368.3" r="4.2" fill="#d51cff" fill-opacity="0.7"/>
<circle cx="502.3" cy="360.7" r="4.2" fill="#d51cff" fill-opacity="0.7"/>
<circle cx="505.0" cy="361.3" r="4.2" fill="#d51cff" fill-opacity="0.7"/>
<circle cx="504.7" cy="348.8" r="4.2" fill="#d51cff" fill-opacity="0.7"/>
<circle cx="514.0" cy="351.9" r="4.2" fill="#d51cff" fill-opacity="0.7"/>
<circle cx="514.9" cy="348.8" r="4.2" fill="#d51cff" fill-opacity="0.7"/>
<circle cx="521.9" cy="345.7" r="4.2" fill="#d51cff" fill-opacity="0.7"/>
<circle cx="535.3" cy="345.7" r="4.2" fill="#d51cff" fill-opacity="0.7"/>
<circle cx="536.5" cy="336.8" r="4.2" fill="#d51cff" fill-opacity="0.7"/>
<circle cx="541.8" cy="345.9" r="4.2" fill="#d51cff" fill-opacity="0.7"/>
<circle cx="544.9" cy="345.9" r="4.2" fill="#d51cff" fill-opacity="0.7"/>
<circle cx="544.9" cy="352.5" r="4.2" fill="#d51cff" fill-opacity="0.7"/>
<circle cx="576.9" cy="345.9" r="4.2" fill="#d51cff" fill-opacity="0.7"/>
<circle cx="582.9" cy="336.1" r="4.2" fill="#d51cff" fill-opacity="0.7"/>
<circle cx="590.0" cy="336.1" r="4.2" fill="#d51cff" fill-opacity="0.7"/>
<circle cx="590.9" cy="338.9" r="4.2" fill="#d51cff" fill-opacity="0.7"/>
<circle cx="593.9" cy="339.6" r="4.2" fill="#d51cff" fill-opacity="0.7"/>
<circle cx="593.7" cy="348.5" r="4.2" fill="#d51cff" fill-opacity="0.7"/>
<circle cx="621.2" cy="330.0" r="4.2" fill="#d51cff" fill-opacity="0.7"/>
<circle cx="627.8" cy="324.0" r="4.2" fill="#d51cff" fill-opacity="0.7"/>
<circle cx="649.3" cy="336.1" r="4.2" fill="#d51cff" fill-opacity="0.7"/>
<line x1="399.20" y1="402.60" x2="649.30" y2="312.60" stroke="#111" stroke-width="1.3"/>
<text x="679.40" y="262.40" text-anchor="end" fill="#111"><tspan font-size="16.5" font-weight="bold">d</tspan><tspan font-size="12.5">)</tspan></text>
<path d="M34.50 472.50 H341.40 V661.50" fill="none" stroke="#999" stroke-width="1"/>
<rect x="36.20" y="474.20" width="158.80" height="94.30" fill="none" stroke="#e6e6e6" stroke-width="1"/>
<rect x="37.40" y="475.40" width="156.40" height="91.90" fill="#fff" stroke="#8c8c8c" stroke-width="1"/>
<line x1="37.90" y1="491.60" x2="193.30" y2="491.60" stroke="#e3e3e3" stroke-width="0.9"/>
<line x1="37.90" y1="507.00" x2="193.30" y2="507.00" stroke="#e3e3e3" stroke-width="0.9"/>
<line x1="37.90" y1="522.10" x2="193.30" y2="522.10" stroke="#e3e3e3" stroke-width="0.9"/>
<line x1="37.90" y1="537.00" x2="193.30" y2="537.00" stroke="#e3e3e3" stroke-width="0.9"/>
<line x1="37.90" y1="552.40" x2="193.30" y2="552.40" stroke="#e3e3e3" stroke-width="0.9"/>
<line x1="128.50" y1="475.90" x2="128.50" y2="566.80" stroke="#e3e3e3" stroke-width="0.9"/>
<text x="40.00" y="486.80" font-size="10.1" text-anchor="start" font-weight="normal" fill="#111" textLength="36.8" lengthAdjust="spacingAndGlyphs">Equation</text>
<text x="161.15" y="486.80" font-size="10.1" text-anchor="middle" font-weight="normal" fill="#111" textLength="47.6" lengthAdjust="spacingAndGlyphs">y = a + b*x</text>
<text x="40.00" y="502.60" font-size="10.1" text-anchor="start" font-weight="normal" fill="#111" textLength="37.3" lengthAdjust="spacingAndGlyphs">Intercept</text>
<text x="161.15" y="502.60" font-size="10.1" text-anchor="middle" font-weight="normal" fill="#111" textLength="56.0" lengthAdjust="spacingAndGlyphs">-2.69 ± 1.366</text>
<text x="40.00" y="517.85" font-size="10.1" text-anchor="start" font-weight="normal" fill="#111" textLength="23.3" lengthAdjust="spacingAndGlyphs">Slope</text>
<text x="161.15" y="517.85" font-size="10.1" text-anchor="middle" font-weight="normal" fill="#111" textLength="61.6" lengthAdjust="spacingAndGlyphs">12.902 ± 2.702</text>
<text x="40.00" y="532.85" font-size="10.1" text-anchor="start" font-weight="normal" fill="#111" textLength="84.5" lengthAdjust="spacingAndGlyphs">Residual Sum of Squ</text>
<text x="161.15" y="532.85" font-size="10.1" text-anchor="middle" font-weight="normal" fill="#111" textLength="33.1" lengthAdjust="spacingAndGlyphs">186.524</text>
<text x="40.00" y="548.00" font-size="10.1" text-anchor="start" font-weight="normal" fill="#111" textLength="44.3" lengthAdjust="spacingAndGlyphs">Pearson's r</text>
<text x="161.15" y="548.00" font-size="10.1" text-anchor="middle" font-weight="normal" fill="#111" textLength="22.1" lengthAdjust="spacingAndGlyphs">0.603</text>
<text x="40.00" y="563.15" font-size="10.1" text-anchor="start" font-weight="normal" fill="#111" textLength="66.5" lengthAdjust="spacingAndGlyphs">R-Square(COD)</text>
<text x="161.15" y="563.15" font-size="10.1" text-anchor="middle" font-weight="normal" fill="#111" textLength="22.1" lengthAdjust="spacingAndGlyphs">0.363</text>
<line x1="34.50" y1="472.20" x2="34.50" y2="662.10" stroke="#333" stroke-width="1.2"/>
<line x1="33.90" y1="661.50" x2="341.70" y2="661.50" stroke="#333" stroke-width="1.2"/>
<line x1="30.70" y1="648.50" x2="34.50" y2="648.50" stroke="#333" stroke-width="1.0"/>
<text x="27.90" y="652.02" font-size="13.0" text-anchor="end" font-weight="normal" fill="#222" >0</text>
<line x1="30.70" y1="621.50" x2="34.50" y2="621.50" stroke="#333" stroke-width="1.0"/>
<text x="27.90" y="625.07" font-size="13.0" text-anchor="end" font-weight="normal" fill="#222" >2</text>
<line x1="30.70" y1="594.50" x2="34.50" y2="594.50" stroke="#333" stroke-width="1.0"/>
<text x="27.90" y="598.12" font-size="13.0" text-anchor="end" font-weight="normal" fill="#222" >4</text>
<line x1="30.70" y1="567.50" x2="34.50" y2="567.50" stroke="#333" stroke-width="1.0"/>
<text x="27.90" y="571.17" font-size="13.0" text-anchor="end" font-weight="normal" fill="#222" >6</text>
<line x1="30.70" y1="540.50" x2="34.50" y2="540.50" stroke="#333" stroke-width="1.0"/>
<text x="27.90" y="544.22" font-size="13.0" text-anchor="end" font-weight="normal" fill="#222" >8</text>
<line x1="30.70" y1="513.50" x2="34.50" y2="513.50" stroke="#333" stroke-width="1.0"/>
<text x="27.90" y="517.27" font-size="13.0" text-anchor="end" font-weight="normal" fill="#222" >10</text>
<line x1="30.70" y1="486.50" x2="34.50" y2="486.50" stroke="#333" stroke-width="1.0"/>
<text x="27.90" y="490.32" font-size="13.0" text-anchor="end" font-weight="normal" fill="#222" >12</text>
<line x1="32.30" y1="661.50" x2="34.50" y2="661.50" stroke="#333" stroke-width="1.0"/>
<line x1="32.30" y1="634.50" x2="34.50" y2="634.50" stroke="#333" stroke-width="1.0"/>
<line x1="32.30" y1="607.50" x2="34.50" y2="607.50" stroke="#333" stroke-width="1.0"/>
<line x1="32.30" y1="580.50" x2="34.50" y2="580.50" stroke="#333" stroke-width="1.0"/>
<line x1="32.30" y1="553.50" x2="34.50" y2="553.50" stroke="#333" stroke-width="1.0"/>
<line x1="32.30" y1="526.50" x2="34.50" y2="526.50" stroke="#333" stroke-width="1.0"/>
<line x1="32.30" y1="499.50" x2="34.50" y2="499.50" stroke="#333" stroke-width="1.0"/>
<line x1="32.30" y1="472.50" x2="34.50" y2="472.50" stroke="#333" stroke-width="1.0"/>
<line x1="34.50" y1="661.50" x2="34.50" y2="665.30" stroke="#333" stroke-width="1.0"/>
<text x="34.50" y="677.50" font-size="13.0" text-anchor="middle" font-weight="normal" fill="#222" >0.2</text>
<line x1="90.50" y1="661.50" x2="90.50" y2="665.30" stroke="#333" stroke-width="1.0"/>
<text x="90.30" y="677.50" font-size="13.0" text-anchor="middle" font-weight="normal" fill="#222" >0.3</text>
<line x1="146.50" y1="661.50" x2="146.50" y2="665.30" stroke="#333" stroke-width="1.0"/>
<text x="146.10" y="677.50" font-size="13.0" text-anchor="middle" font-weight="normal" fill="#222" >0.4</text>
<line x1="201.50" y1="661.50" x2="201.50" y2="665.30" stroke="#333" stroke-width="1.0"/>
<text x="201.90" y="677.50" font-size="13.0" text-anchor="middle" font-weight="normal" fill="#222" >0.5</text>
<line x1="257.50" y1="661.50" x2="257.50" y2="665.30" stroke="#333" stroke-width="1.0"/>
<text x="257.70" y="677.50" font-size="13.0" text-anchor="middle" font-weight="normal" fill="#222" >0.6</text>
<line x1="313.50" y1="661.50" x2="313.50" y2="665.30" stroke="#333" stroke-width="1.0"/>
<text x="313.50" y="677.50" font-size="13.0" text-anchor="middle" font-weight="normal" fill="#222" >0.7</text>
<line x1="62.50" y1="661.50" x2="62.50" y2="663.70" stroke="#333" stroke-width="1.0"/>
<line x1="118.50" y1="661.50" x2="118.50" y2="663.70" stroke="#333" stroke-width="1.0"/>
<line x1="174.50" y1="661.50" x2="174.50" y2="663.70" stroke="#333" stroke-width="1.0"/>
<line x1="229.50" y1="661.50" x2="229.50" y2="663.70" stroke="#333" stroke-width="1.0"/>
<line x1="285.50" y1="661.50" x2="285.50" y2="663.70" stroke="#333" stroke-width="1.0"/>
<line x1="341.50" y1="661.50" x2="341.50" y2="663.70" stroke="#333" stroke-width="1.0"/>
<circle cx="64.5" cy="625.7" r="4.2" fill="#0a22c0" fill-opacity="0.82"/>
<circle cx="67.4" cy="626.1" r="4.2" fill="#0a22c0" fill-opacity="0.82"/>
<circle cx="66.0" cy="636.7" r="4.2" fill="#0a22c0" fill-opacity="0.82"/>
<circle cx="80.4" cy="623.6" r="4.2" fill="#0a22c0" fill-opacity="0.82"/>
<circle cx="86.9" cy="628.5" r="4.2" fill="#0a22c0" fill-opacity="0.82"/>
<circle cx="90.6" cy="619.8" r="4.2" fill="#0a22c0" fill-opacity="0.82"/>
<circle cx="136.7" cy="599.2" r="4.2" fill="#0a22c0" fill-opacity="0.82"/>
<circle cx="137.4" cy="608.8" r="4.2" fill="#0a22c0" fill-opacity="0.82"/>
<circle cx="150.0" cy="595.3" r="4.2" fill="#0a22c0" fill-opacity="0.82"/>
<circle cx="157.0" cy="607.4" r="4.2" fill="#0a22c0" fill-opacity="0.82"/>
<circle cx="144.8" cy="616.8" r="4.2" fill="#0a22c0" fill-opacity="0.82"/>
<circle cx="169.4" cy="622.6" r="4.2" fill="#0a22c0" fill-opacity="0.82"/>
<circle cx="161.7" cy="629.6" r="4.2" fill="#0a22c0" fill-opacity="0.82"/>
<circle cx="163.1" cy="635.2" r="4.2" fill="#0a22c0" fill-opacity="0.82"/>
<circle cx="170.1" cy="631.5" r="4.2" fill="#0a22c0" fill-opacity="0.82"/>
<circle cx="179.0" cy="640.4" r="4.2" fill="#0a22c0" fill-opacity="0.82"/>
<circle cx="182.2" cy="612.8" r="4.2" fill="#0a22c0" fill-opacity="0.82"/>
<circle cx="187.8" cy="630.5" r="4.2" fill="#0a22c0" fill-opacity="0.82"/>
<circle cx="189.9" cy="638.3" r="4.2" fill="#0a22c0" fill-opacity="0.82"/>
<circle cx="188.8" cy="599.0" r="4.2" fill="#0a22c0" fill-opacity="0.82"/>
<circle cx="198.1" cy="585.7" r="4.2" fill="#0a22c0" fill-opacity="0.82"/>
<circle cx="198.6" cy="589.4" r="4.2" fill="#0a22c0" fill-opacity="0.82"/>
<circle cx="207.9" cy="634.3" r="4.2" fill="#0a22c0" fill-opacity="0.82"/>
<circle cx="218.7" cy="598.5" r="4.2" fill="#0a22c0" fill-opacity="0.82"/>
<circle cx="225.7" cy="623.1" r="4.2" fill="#0a22c0" fill-opacity="0.82"/>
<circle cx="224.5" cy="589.9" r="4.2" fill="#0a22c0" fill-opacity="0.82"/>
<circle cx="227.3" cy="584.5" r="4.2" fill="#0a22c0" fill-opacity="0.82"/>
<circle cx="228.5" cy="568.2" r="4.2" fill="#0a22c0" fill-opacity="0.82"/>
<circle cx="235.0" cy="606.3" r="4.2" fill="#0a22c0" fill-opacity="0.82"/>
<circle cx="265.6" cy="639.7" r="4.2" fill="#0a22c0" fill-opacity="0.82"/>
<circle cx="293.9" cy="622.9" r="4.2" fill="#0a22c0" fill-opacity="0.82"/>
<circle cx="261.0" cy="583.1" r="4.2" fill="#0a22c0" fill-opacity="0.82"/>
<circle cx="263.5" cy="584.9" r="4.2" fill="#0a22c0" fill-opacity="0.82"/>
<circle cx="266.2" cy="590.5" r="4.2" fill="#0a22c0" fill-opacity="0.82"/>
<circle cx="269.9" cy="579.4" r="4.2" fill="#0a22c0" fill-opacity="0.82"/>
<circle cx="266.2" cy="536.9" r="4.2" fill="#0a22c0" fill-opacity="0.82"/>
<circle cx="275.0" cy="553.5" r="4.2" fill="#0a22c0" fill-opacity="0.82"/>
<circle cx="285.1" cy="551.7" r="4.2" fill="#0a22c0" fill-opacity="0.82"/>
<circle cx="299.2" cy="519.7" r="4.2" fill="#0a22c0" fill-opacity="0.82"/>
<circle cx="301.3" cy="534.0" r="4.2" fill="#0a22c0" fill-opacity="0.82"/>
<circle cx="303.3" cy="495.2" r="4.2" fill="#0a22c0" fill-opacity="0.82"/>
<line x1="66.00" y1="639.30" x2="303.70" y2="565.10" stroke="#111" stroke-width="1.3"/>
<text x="338.30" y="488.40" text-anchor="end" fill="#111"><tspan font-size="16.5" font-weight="bold">e</tspan><tspan font-size="12.5">)</tspan></text>
<path d="M377.30 469.50 H683.40 V658.30" fill="none" stroke="#999" stroke-width="1"/>
<rect x="378.70" y="471.20" width="158.30" height="89.80" fill="none" stroke="#e6e6e6" stroke-width="1"/>
<rect x="379.90" y="472.40" width="155.90" height="87.40" fill="#fff" stroke="#8c8c8c" stroke-width="1"/>
<line x1="380.40" y1="487.80" x2="535.30" y2="487.80" stroke="#e3e3e3" stroke-width="0.9"/>
<line x1="380.40" y1="502.20" x2="535.30" y2="502.20" stroke="#e3e3e3" stroke-width="0.9"/>
<line x1="380.40" y1="517.10" x2="535.30" y2="517.10" stroke="#e3e3e3" stroke-width="0.9"/>
<line x1="380.40" y1="531.50" x2="535.30" y2="531.50" stroke="#e3e3e3" stroke-width="0.9"/>
<line x1="380.40" y1="545.70" x2="535.30" y2="545.70" stroke="#e3e3e3" stroke-width="0.9"/>
<line x1="475.50" y1="472.90" x2="475.50" y2="559.30" stroke="#e3e3e3" stroke-width="0.9"/>
<text x="383.00" y="483.00" font-size="10.1" text-anchor="start" font-weight="normal" fill="#111" textLength="36.1" lengthAdjust="spacingAndGlyphs">Equation</text>
<text x="505.65" y="483.00" font-size="10.1" text-anchor="middle" font-weight="normal" fill="#111" textLength="48.8" lengthAdjust="spacingAndGlyphs">y = a + b*x</text>
<text x="383.00" y="497.90" font-size="10.1" text-anchor="start" font-weight="normal" fill="#111" textLength="36.8" lengthAdjust="spacingAndGlyphs">Intercept</text>
<text x="505.65" y="497.90" font-size="10.1" text-anchor="middle" font-weight="normal" fill="#111" textLength="55.5" lengthAdjust="spacingAndGlyphs">-0.764 ± 0.51</text>
<text x="383.00" y="512.55" font-size="10.1" text-anchor="start" font-weight="normal" fill="#111" textLength="22.8" lengthAdjust="spacingAndGlyphs">Slope</text>
<text x="505.65" y="512.55" font-size="10.1" text-anchor="middle" font-weight="normal" fill="#111" textLength="56.5" lengthAdjust="spacingAndGlyphs">4.428 ± 1.001</text>
<text x="383.00" y="527.20" font-size="10.1" text-anchor="start" font-weight="normal" fill="#111" textLength="88.2" lengthAdjust="spacingAndGlyphs">Residual Sum of Squa</text>
<text x="505.65" y="527.20" font-size="10.1" text-anchor="middle" font-weight="normal" fill="#111" textLength="28.0" lengthAdjust="spacingAndGlyphs">28.253</text>
<text x="383.00" y="541.50" font-size="10.1" text-anchor="start" font-weight="normal" fill="#111" textLength="44.3" lengthAdjust="spacingAndGlyphs">Pearson's r</text>
<text x="505.65" y="541.50" font-size="10.1" text-anchor="middle" font-weight="normal" fill="#111" textLength="22.8" lengthAdjust="spacingAndGlyphs">0.573</text>
<text x="383.00" y="555.65" font-size="10.1" text-anchor="start" font-weight="normal" fill="#111" textLength="66.5" lengthAdjust="spacingAndGlyphs">R-Square(COD)</text>
<text x="505.65" y="555.65" font-size="10.1" text-anchor="middle" font-weight="normal" fill="#111" textLength="22.8" lengthAdjust="spacingAndGlyphs">0.329</text>
<line x1="377.30" y1="469.20" x2="377.30" y2="658.90" stroke="#333" stroke-width="1.2"/>
<line x1="376.70" y1="658.30" x2="683.70" y2="658.30" stroke="#333" stroke-width="1.2"/>
<line x1="373.50" y1="641.50" x2="377.30" y2="641.50" stroke="#333" stroke-width="1.0"/>
<text x="370.70" y="645.42" font-size="13.0" text-anchor="end" font-weight="normal" fill="#222" >0</text>
<line x1="373.50" y1="607.50" x2="377.30" y2="607.50" stroke="#333" stroke-width="1.0"/>
<text x="370.70" y="611.04" font-size="13.0" text-anchor="end" font-weight="normal" fill="#222" >1</text>
<line x1="373.50" y1="572.50" x2="377.30" y2="572.50" stroke="#333" stroke-width="1.0"/>
<text x="370.70" y="576.66" font-size="13.0" text-anchor="end" font-weight="normal" fill="#222" >2</text>
<line x1="373.50" y1="538.50" x2="377.30" y2="538.50" stroke="#333" stroke-width="1.0"/>
<text x="370.70" y="542.28" font-size="13.0" text-anchor="end" font-weight="normal" fill="#222" >3</text>
<line x1="373.50" y1="503.50" x2="377.30" y2="503.50" stroke="#333" stroke-width="1.0"/>
<text x="370.70" y="507.90" font-size="13.0" text-anchor="end" font-weight="normal" fill="#222" >4</text>
<line x1="373.50" y1="469.50" x2="377.30" y2="469.50" stroke="#333" stroke-width="1.0"/>
<text x="370.70" y="473.52" font-size="13.0" text-anchor="end" font-weight="normal" fill="#222" >5</text>
<line x1="375.10" y1="658.50" x2="377.30" y2="658.50" stroke="#333" stroke-width="1.0"/>
<line x1="375.10" y1="624.50" x2="377.30" y2="624.50" stroke="#333" stroke-width="1.0"/>
<line x1="375.10" y1="589.50" x2="377.30" y2="589.50" stroke="#333" stroke-width="1.0"/>
<line x1="375.10" y1="555.50" x2="377.30" y2="555.50" stroke="#333" stroke-width="1.0"/>
<line x1="375.10" y1="521.50" x2="377.30" y2="521.50" stroke="#333" stroke-width="1.0"/>
<line x1="375.10" y1="486.50" x2="377.30" y2="486.50" stroke="#333" stroke-width="1.0"/>
<line x1="377.50" y1="658.30" x2="377.50" y2="662.10" stroke="#333" stroke-width="1.0"/>
<text x="377.30" y="674.30" font-size="13.0" text-anchor="middle" font-weight="normal" fill="#222" >0.2</text>
<line x1="433.50" y1="658.30" x2="433.50" y2="662.10" stroke="#333" stroke-width="1.0"/>
<text x="433.00" y="674.30" font-size="13.0" text-anchor="middle" font-weight="normal" fill="#222" >0.3</text>
<line x1="488.50" y1="658.30" x2="488.50" y2="662.10" stroke="#333" stroke-width="1.0"/>
<text x="488.70" y="674.30" font-size="13.0" text-anchor="middle" font-weight="normal" fill="#222" >0.4</text>
<line x1="544.50" y1="658.30" x2="544.50" y2="662.10" stroke="#333" stroke-width="1.0"/>
<text x="544.40" y="674.30" font-size="13.0" text-anchor="middle" font-weight="normal" fill="#222" >0.5</text>
<line x1="600.50" y1="658.30" x2="600.50" y2="662.10" stroke="#333" stroke-width="1.0"/>
<text x="600.10" y="674.30" font-size="13.0" text-anchor="middle" font-weight="normal" fill="#222" >0.6</text>
<line x1="655.50" y1="658.30" x2="655.50" y2="662.10" stroke="#333" stroke-width="1.0"/>
<text x="655.80" y="674.30" font-size="13.0" text-anchor="middle" font-weight="normal" fill="#222" >0.7</text>
<line x1="405.50" y1="658.30" x2="405.50" y2="660.50" stroke="#333" stroke-width="1.0"/>
<line x1="460.50" y1="658.30" x2="460.50" y2="660.50" stroke="#333" stroke-width="1.0"/>
<line x1="516.50" y1="658.30" x2="516.50" y2="660.50" stroke="#333" stroke-width="1.0"/>
<line x1="572.50" y1="658.30" x2="572.50" y2="660.50" stroke="#333" stroke-width="1.0"/>
<line x1="627.50" y1="658.30" x2="627.50" y2="660.50" stroke="#333" stroke-width="1.0"/>
<line x1="683.50" y1="658.30" x2="683.50" y2="660.50" stroke="#333" stroke-width="1.0"/>
<circle cx="406.6" cy="611.7" r="4.2" fill="#0a22c0" fill-opacity="0.82"/>
<circle cx="409.7" cy="619.8" r="4.2" fill="#0a22c0" fill-opacity="0.82"/>
<circle cx="408.3" cy="624.7" r="4.2" fill="#0a22c0" fill-opacity="0.82"/>
<circle cx="422.7" cy="615.4" r="4.2" fill="#0a22c0" fill-opacity="0.82"/>
<circle cx="429.3" cy="619.9" r="4.2" fill="#0a22c0" fill-opacity="0.82"/>
<circle cx="435.0" cy="577.7" r="4.2" fill="#0a22c0" fill-opacity="0.82"/>
<circle cx="481.1" cy="578.7" r="4.2" fill="#0a22c0" fill-opacity="0.82"/>
<circle cx="492.6" cy="584.8" r="4.2" fill="#0a22c0" fill-opacity="0.82"/>
<circle cx="479.2" cy="594.8" r="4.2" fill="#0a22c0" fill-opacity="0.82"/>
<circle cx="487.4" cy="607.0" r="4.2" fill="#0a22c0" fill-opacity="0.82"/>
<circle cx="499.8" cy="600.6" r="4.2" fill="#0a22c0" fill-opacity="0.82"/>
<circle cx="511.7" cy="611.4" r="4.2" fill="#0a22c0" fill-opacity="0.82"/>
<circle cx="512.6" cy="615.1" r="4.2" fill="#0a22c0" fill-opacity="0.82"/>
<circle cx="504.0" cy="619.6" r="4.2" fill="#0a22c0" fill-opacity="0.82"/>
<circle cx="505.6" cy="628.9" r="4.2" fill="#0a22c0" fill-opacity="0.82"/>
<circle cx="521.3" cy="633.8" r="4.2" fill="#0a22c0" fill-opacity="0.82"/>
<circle cx="524.8" cy="605.6" r="4.2" fill="#0a22c0" fill-opacity="0.82"/>
<circle cx="530.2" cy="617.9" r="4.2" fill="#0a22c0" fill-opacity="0.82"/>
<circle cx="532.0" cy="629.4" r="4.2" fill="#0a22c0" fill-opacity="0.82"/>
<circle cx="529.9" cy="588.3" r="4.2" fill="#0a22c0" fill-opacity="0.82"/>
<circle cx="540.9" cy="590.1" r="4.2" fill="#0a22c0" fill-opacity="0.82"/>
<circle cx="538.8" cy="611.2" r="4.2" fill="#0a22c0" fill-opacity="0.82"/>
<circle cx="550.7" cy="617.2" r="4.2" fill="#0a22c0" fill-opacity="0.82"/>
<circle cx="561.0" cy="589.0" r="4.2" fill="#0a22c0" fill-opacity="0.82"/>
<circle cx="566.8" cy="579.9" r="4.2" fill="#0a22c0" fill-opacity="0.82"/>
<circle cx="569.9" cy="574.7" r="4.2" fill="#0a22c0" fill-opacity="0.82"/>
<circle cx="577.6" cy="596.7" r="4.2" fill="#0a22c0" fill-opacity="0.82"/>
<circle cx="568.0" cy="609.3" r="4.2" fill="#0a22c0" fill-opacity="0.82"/>
<circle cx="569.6" cy="635.0" r="4.2" fill="#0a22c0" fill-opacity="0.82"/>
<circle cx="612.1" cy="491.0" r="4.2" fill="#0a22c0" fill-opacity="0.82"/>
<circle cx="608.2" cy="510.4" r="4.2" fill="#0a22c0" fill-opacity="0.82"/>
<circle cx="643.5" cy="516.0" r="4.2" fill="#0a22c0" fill-opacity="0.82"/>
<circle cx="627.7" cy="533.8" r="4.2" fill="#0a22c0" fill-opacity="0.82"/>
<circle cx="645.9" cy="553.7" r="4.2" fill="#0a22c0" fill-opacity="0.82"/>
<circle cx="617.5" cy="559.1" r="4.2" fill="#0a22c0" fill-opacity="0.82"/>
<circle cx="610.0" cy="568.8" r="4.2" fill="#0a22c0" fill-opacity="0.82"/>
<circle cx="603.5" cy="577.5" r="4.2" fill="#0a22c0" fill-opacity="0.82"/>
<circle cx="606.1" cy="587.6" r="4.2" fill="#0a22c0" fill-opacity="0.82"/>
<circle cx="641.5" cy="577.5" r="4.2" fill="#0a22c0" fill-opacity="0.82"/>
<circle cx="636.1" cy="610.1" r="4.2" fill="#0a22c0" fill-opacity="0.82"/>
<circle cx="608.0" cy="629.8" r="4.2" fill="#0a22c0" fill-opacity="0.82"/>
<line x1="407.40" y1="628.50" x2="683.50" y2="553.20" stroke="#111" stroke-width="1.3"/>
<text x="678.30" y="486.40" text-anchor="end" fill="#111"><tspan font-size="16.5" font-weight="bold">f</tspan><tspan font-size="12.5">)</tspan></text>
<path d="M34.50 697.55 H341.40 V886.20" fill="none" stroke="#999" stroke-width="1"/>
<rect x="36.20" y="698.20" width="158.80" height="90.10" fill="none" stroke="#e6e6e6" stroke-width="1"/>
<rect x="37.40" y="699.40" width="156.40" height="87.70" fill="#fff" stroke="#8c8c8c" stroke-width="1"/>
<line x1="37.90" y1="715.10" x2="193.30" y2="715.10" stroke="#e3e3e3" stroke-width="0.9"/>
<line x1="37.90" y1="729.20" x2="193.30" y2="729.20" stroke="#e3e3e3" stroke-width="0.9"/>
<line x1="37.90" y1="744.10" x2="193.30" y2="744.10" stroke="#e3e3e3" stroke-width="0.9"/>
<line x1="37.90" y1="758.30" x2="193.30" y2="758.30" stroke="#e3e3e3" stroke-width="0.9"/>
<line x1="37.90" y1="773.20" x2="193.30" y2="773.20" stroke="#e3e3e3" stroke-width="0.9"/>
<line x1="128.50" y1="699.90" x2="128.50" y2="786.60" stroke="#e3e3e3" stroke-width="0.9"/>
<text x="40.00" y="709.60" font-size="10.1" text-anchor="start" font-weight="normal" fill="#111" textLength="36.8" lengthAdjust="spacingAndGlyphs">Equation</text>
<text x="161.15" y="709.60" font-size="10.1" text-anchor="middle" font-weight="normal" fill="#111" textLength="47.6" lengthAdjust="spacingAndGlyphs">y = a + b*x</text>
<text x="40.00" y="724.50" font-size="10.1" text-anchor="start" font-weight="normal" fill="#111" textLength="37.3" lengthAdjust="spacingAndGlyphs">Intercept</text>
<text x="161.15" y="724.50" font-size="10.1" text-anchor="middle" font-weight="normal" fill="#111" textLength="57.6" lengthAdjust="spacingAndGlyphs">40.126 ± 1.12</text>
<text x="40.00" y="739.00" font-size="10.1" text-anchor="start" font-weight="normal" fill="#111" textLength="23.3" lengthAdjust="spacingAndGlyphs">Slope</text>
<text x="161.15" y="739.00" font-size="10.1" text-anchor="middle" font-weight="normal" fill="#111" textLength="56.9" lengthAdjust="spacingAndGlyphs">36.313 ± 2.21</text>
<text x="40.00" y="753.55" font-size="10.1" text-anchor="start" font-weight="normal" fill="#111" textLength="84.0" lengthAdjust="spacingAndGlyphs">Residual Sum of Squ</text>
<text x="161.15" y="753.55" font-size="10.1" text-anchor="middle" font-weight="normal" fill="#111" textLength="33.1" lengthAdjust="spacingAndGlyphs">125.099</text>
<text x="40.00" y="768.10" font-size="10.1" text-anchor="start" font-weight="normal" fill="#111" textLength="44.3" lengthAdjust="spacingAndGlyphs">Pearson's r</text>
<text x="161.15" y="768.10" font-size="10.1" text-anchor="middle" font-weight="normal" fill="#111" textLength="22.8" lengthAdjust="spacingAndGlyphs">0.933</text>
<text x="40.00" y="782.50" font-size="10.1" text-anchor="start" font-weight="normal" fill="#111" textLength="66.5" lengthAdjust="spacingAndGlyphs">R-Square(COD)</text>
<text x="161.15" y="782.50" font-size="10.1" text-anchor="middle" font-weight="normal" fill="#111" textLength="18.6" lengthAdjust="spacingAndGlyphs">0.87</text>
<line x1="34.50" y1="697.25" x2="34.50" y2="886.80" stroke="#333" stroke-width="1.2"/>
<line x1="33.90" y1="886.20" x2="341.70" y2="886.20" stroke="#333" stroke-width="1.2"/>
<line x1="30.70" y1="877.50" x2="34.50" y2="877.50" stroke="#333" stroke-width="1.0"/>
<text x="27.90" y="881.42" font-size="13.0" text-anchor="end" font-weight="normal" fill="#222" >50</text>
<line x1="30.70" y1="859.50" x2="34.50" y2="859.50" stroke="#333" stroke-width="1.0"/>
<text x="27.90" y="863.44" font-size="13.0" text-anchor="end" font-weight="normal" fill="#222" >52</text>
<line x1="30.70" y1="841.50" x2="34.50" y2="841.50" stroke="#333" stroke-width="1.0"/>
<text x="27.90" y="845.46" font-size="13.0" text-anchor="end" font-weight="normal" fill="#222" >54</text>
<line x1="30.70" y1="823.50" x2="34.50" y2="823.50" stroke="#333" stroke-width="1.0"/>
<text x="27.90" y="827.48" font-size="13.0" text-anchor="end" font-weight="normal" fill="#222" >56</text>
<line x1="30.70" y1="805.50" x2="34.50" y2="805.50" stroke="#333" stroke-width="1.0"/>
<text x="27.90" y="809.50" font-size="13.0" text-anchor="end" font-weight="normal" fill="#222" >58</text>
<line x1="30.70" y1="787.50" x2="34.50" y2="787.50" stroke="#333" stroke-width="1.0"/>
<text x="27.90" y="791.52" font-size="13.0" text-anchor="end" font-weight="normal" fill="#222" >60</text>
<line x1="30.70" y1="769.50" x2="34.50" y2="769.50" stroke="#333" stroke-width="1.0"/>
<text x="27.90" y="773.54" font-size="13.0" text-anchor="end" font-weight="normal" fill="#222" >62</text>
<line x1="30.70" y1="751.50" x2="34.50" y2="751.50" stroke="#333" stroke-width="1.0"/>
<text x="27.90" y="755.56" font-size="13.0" text-anchor="end" font-weight="normal" fill="#222" >64</text>
<line x1="30.70" y1="733.50" x2="34.50" y2="733.50" stroke="#333" stroke-width="1.0"/>
<text x="27.90" y="737.58" font-size="13.0" text-anchor="end" font-weight="normal" fill="#222" >66</text>
<line x1="30.70" y1="715.50" x2="34.50" y2="715.50" stroke="#333" stroke-width="1.0"/>
<text x="27.90" y="719.60" font-size="13.0" text-anchor="end" font-weight="normal" fill="#222" >68</text>
<line x1="30.70" y1="697.50" x2="34.50" y2="697.50" stroke="#333" stroke-width="1.0"/>
<text x="27.90" y="701.62" font-size="13.0" text-anchor="end" font-weight="normal" fill="#222" >70</text>
<line x1="32.30" y1="886.50" x2="34.50" y2="886.50" stroke="#333" stroke-width="1.0"/>
<line x1="32.30" y1="868.50" x2="34.50" y2="868.50" stroke="#333" stroke-width="1.0"/>
<line x1="32.30" y1="850.50" x2="34.50" y2="850.50" stroke="#333" stroke-width="1.0"/>
<line x1="32.30" y1="832.50" x2="34.50" y2="832.50" stroke="#333" stroke-width="1.0"/>
<line x1="32.30" y1="814.50" x2="34.50" y2="814.50" stroke="#333" stroke-width="1.0"/>
<line x1="32.30" y1="796.50" x2="34.50" y2="796.50" stroke="#333" stroke-width="1.0"/>
<line x1="32.30" y1="778.50" x2="34.50" y2="778.50" stroke="#333" stroke-width="1.0"/>
<line x1="32.30" y1="760.50" x2="34.50" y2="760.50" stroke="#333" stroke-width="1.0"/>
<line x1="32.30" y1="742.50" x2="34.50" y2="742.50" stroke="#333" stroke-width="1.0"/>
<line x1="32.30" y1="724.50" x2="34.50" y2="724.50" stroke="#333" stroke-width="1.0"/>
<line x1="32.30" y1="706.50" x2="34.50" y2="706.50" stroke="#333" stroke-width="1.0"/>
<line x1="34.50" y1="886.20" x2="34.50" y2="890.00" stroke="#333" stroke-width="1.0"/>
<text x="34.50" y="902.20" font-size="13.0" text-anchor="middle" font-weight="normal" fill="#222" >0.2</text>
<line x1="90.50" y1="886.20" x2="90.50" y2="890.00" stroke="#333" stroke-width="1.0"/>
<text x="90.30" y="902.20" font-size="13.0" text-anchor="middle" font-weight="normal" fill="#222" >0.3</text>
<line x1="146.50" y1="886.20" x2="146.50" y2="890.00" stroke="#333" stroke-width="1.0"/>
<text x="146.10" y="902.20" font-size="13.0" text-anchor="middle" font-weight="normal" fill="#222" >0.4</text>
<line x1="201.50" y1="886.20" x2="201.50" y2="890.00" stroke="#333" stroke-width="1.0"/>
<text x="201.90" y="902.20" font-size="13.0" text-anchor="middle" font-weight="normal" fill="#222" >0.5</text>
<line x1="257.50" y1="886.20" x2="257.50" y2="890.00" stroke="#333" stroke-width="1.0"/>
<text x="257.70" y="902.20" font-size="13.0" text-anchor="middle" font-weight="normal" fill="#222" >0.6</text>
<line x1="313.50" y1="886.20" x2="313.50" y2="890.00" stroke="#333" stroke-width="1.0"/>
<text x="313.50" y="902.20" font-size="13.0" text-anchor="middle" font-weight="normal" fill="#222" >0.7</text>
<line x1="62.50" y1="886.20" x2="62.50" y2="888.40" stroke="#333" stroke-width="1.0"/>
<line x1="118.50" y1="886.20" x2="118.50" y2="888.40" stroke="#333" stroke-width="1.0"/>
<line x1="174.50" y1="886.20" x2="174.50" y2="888.40" stroke="#333" stroke-width="1.0"/>
<line x1="229.50" y1="886.20" x2="229.50" y2="888.40" stroke="#333" stroke-width="1.0"/>
<line x1="285.50" y1="886.20" x2="285.50" y2="888.40" stroke="#333" stroke-width="1.0"/>
<line x1="341.50" y1="886.20" x2="341.50" y2="888.40" stroke="#333" stroke-width="1.0"/>
<circle cx="64.5" cy="868.1" r="4.2" fill="#0a22c0" fill-opacity="0.82"/>
<circle cx="66.2" cy="868.1" r="4.2" fill="#0a22c0" fill-opacity="0.82"/>
<circle cx="67.6" cy="859.0" r="4.2" fill="#0a22c0" fill-opacity="0.82"/>
<circle cx="80.4" cy="859.0" r="4.2" fill="#0a22c0" fill-opacity="0.82"/>
<circle cx="86.5" cy="859.0" r="4.2" fill="#0a22c0" fill-opacity="0.82"/>
<circle cx="92.5" cy="850.0" r="4.2" fill="#0a22c0" fill-opacity="0.82"/>
<circle cx="136.9" cy="858.8" r="4.2" fill="#0a22c0" fill-opacity="0.82"/>
<circle cx="138.5" cy="849.9" r="4.2" fill="#0a22c0" fill-opacity="0.82"/>
<circle cx="145.0" cy="849.9" r="4.2" fill="#0a22c0" fill-opacity="0.82"/>
<circle cx="155.5" cy="849.9" r="4.2" fill="#0a22c0" fill-opacity="0.82"/>
<circle cx="150.2" cy="832.1" r="4.2" fill="#0a22c0" fill-opacity="0.82"/>
<circle cx="157.4" cy="832.1" r="4.2" fill="#0a22c0" fill-opacity="0.82"/>
<circle cx="161.9" cy="832.1" r="4.2" fill="#0a22c0" fill-opacity="0.82"/>
<circle cx="169.3" cy="832.1" r="4.2" fill="#0a22c0" fill-opacity="0.82"/>
<circle cx="163.3" cy="813.9" r="4.2" fill="#0a22c0" fill-opacity="0.82"/>
<circle cx="170.0" cy="813.9" r="4.2" fill="#0a22c0" fill-opacity="0.82"/>
<circle cx="182.6" cy="813.9" r="4.2" fill="#0a22c0" fill-opacity="0.82"/>
<circle cx="178.9" cy="805.0" r="4.2" fill="#0a22c0" fill-opacity="0.82"/>
<circle cx="198.3" cy="805.0" r="4.2" fill="#0a22c0" fill-opacity="0.82"/>
<circle cx="187.6" cy="832.1" r="4.2" fill="#0a22c0" fill-opacity="0.82"/>
<circle cx="188.2" cy="832.1" r="4.2" fill="#0a22c0" fill-opacity="0.82"/>
<circle cx="196.2" cy="832.1" r="4.2" fill="#0a22c0" fill-opacity="0.82"/>
<circle cx="189.7" cy="840.8" r="4.2" fill="#0a22c0" fill-opacity="0.82"/>
<circle cx="208.3" cy="823.0" r="4.2" fill="#0a22c0" fill-opacity="0.82"/>
<circle cx="218.6" cy="787.1" r="4.2" fill="#0a22c0" fill-opacity="0.82"/>
<circle cx="225.2" cy="805.0" r="4.2" fill="#0a22c0" fill-opacity="0.82"/>
<circle cx="225.6" cy="805.0" r="4.2" fill="#0a22c0" fill-opacity="0.82"/>
<circle cx="228.4" cy="778.2" r="4.2" fill="#0a22c0" fill-opacity="0.82"/>
<circle cx="227.3" cy="769.4" r="4.2" fill="#0a22c0" fill-opacity="0.82"/>
<circle cx="235.1" cy="769.4" r="4.2" fill="#0a22c0" fill-opacity="0.82"/>
<circle cx="261.0" cy="769.4" r="4.2" fill="#0a22c0" fill-opacity="0.82"/>
<circle cx="266.3" cy="769.4" r="4.2" fill="#0a22c0" fill-opacity="0.82"/>
<circle cx="264.0" cy="778.1" r="4.2" fill="#0a22c0" fill-opacity="0.82"/>
<circle cx="264.8" cy="778.1" r="4.2" fill="#0a22c0" fill-opacity="0.82"/>
<circle cx="266.3" cy="751.4" r="4.2" fill="#0a22c0" fill-opacity="0.82"/>
<circle cx="269.9" cy="751.4" r="4.2" fill="#0a22c0" fill-opacity="0.82"/>
<circle cx="275.4" cy="742.3" r="4.2" fill="#0a22c0" fill-opacity="0.82"/>
<circle cx="285.1" cy="751.4" r="4.2" fill="#0a22c0" fill-opacity="0.82"/>
<circle cx="294.0" cy="751.4" r="4.2" fill="#0a22c0" fill-opacity="0.82"/>
<circle cx="303.5" cy="742.3" r="4.2" fill="#0a22c0" fill-opacity="0.82"/>
<circle cx="298.5" cy="715.4" r="4.2" fill="#0a22c0" fill-opacity="0.82"/>
<circle cx="301.3" cy="715.4" r="4.2" fill="#0a22c0" fill-opacity="0.82"/>
<line x1="64.10" y1="883.10" x2="303.50" y2="743.00" stroke="#111" stroke-width="1.3"/>
<text x="337.40" y="711.70" text-anchor="end" fill="#111"><tspan font-size="16.5" font-weight="bold">g</tspan><tspan font-size="12.5">)</tspan></text>
<path d="M377.30 696.00 H683.50 V884.60" fill="none" stroke="#999" stroke-width="1"/>
<rect x="378.70" y="697.00" width="158.30" height="83.60" fill="none" stroke="#e6e6e6" stroke-width="1"/>
<rect x="379.90" y="698.20" width="155.90" height="81.20" fill="#fff" stroke="#8c8c8c" stroke-width="1"/>
<line x1="380.40" y1="711.80" x2="535.30" y2="711.80" stroke="#e3e3e3" stroke-width="0.9"/>
<line x1="380.40" y1="725.20" x2="535.30" y2="725.20" stroke="#e3e3e3" stroke-width="0.9"/>
<line x1="380.40" y1="738.90" x2="535.30" y2="738.90" stroke="#e3e3e3" stroke-width="0.9"/>
<line x1="380.40" y1="752.50" x2="535.30" y2="752.50" stroke="#e3e3e3" stroke-width="0.9"/>
<line x1="380.40" y1="766.40" x2="535.30" y2="766.40" stroke="#e3e3e3" stroke-width="0.9"/>
<line x1="475.50" y1="698.70" x2="475.50" y2="778.90" stroke="#e3e3e3" stroke-width="0.9"/>
<text x="382.60" y="707.45" font-size="9.2" text-anchor="start" font-weight="normal" fill="#111" textLength="34.3" lengthAdjust="spacingAndGlyphs">Equation</text>
<text x="505.65" y="707.45" font-size="9.2" text-anchor="middle" font-weight="normal" fill="#111" textLength="44.8" lengthAdjust="spacingAndGlyphs">y = a + b*x</text>
<text x="382.60" y="720.95" font-size="9.2" text-anchor="start" font-weight="normal" fill="#111" textLength="35.9" lengthAdjust="spacingAndGlyphs">Intercept</text>
<text x="505.65" y="720.95" font-size="9.2" text-anchor="middle" font-weight="normal" fill="#111" textLength="54.8" lengthAdjust="spacingAndGlyphs">-2.582 ± 1.98</text>
<text x="382.60" y="734.50" font-size="9.2" text-anchor="start" font-weight="normal" fill="#111" textLength="21.0" lengthAdjust="spacingAndGlyphs">Slope</text>
<text x="505.65" y="734.50" font-size="9.2" text-anchor="middle" font-weight="normal" fill="#111" textLength="55.8" lengthAdjust="spacingAndGlyphs">61.46 ± 3.928</text>
<text x="382.60" y="748.15" font-size="9.2" text-anchor="start" font-weight="normal" fill="#111" textLength="88.0" lengthAdjust="spacingAndGlyphs">Residual Sum of Square</text>
<text x="505.65" y="748.15" font-size="9.2" text-anchor="middle" font-weight="normal" fill="#111" textLength="30.8" lengthAdjust="spacingAndGlyphs">393.091</text>
<text x="382.60" y="761.90" font-size="9.2" text-anchor="start" font-weight="normal" fill="#111" textLength="41.3" lengthAdjust="spacingAndGlyphs">Pearson's r</text>
<text x="505.65" y="761.90" font-size="9.2" text-anchor="middle" font-weight="normal" fill="#111" textLength="23.3" lengthAdjust="spacingAndGlyphs">0.927</text>
<text x="382.60" y="775.35" font-size="9.2" text-anchor="start" font-weight="normal" fill="#111" textLength="60.7" lengthAdjust="spacingAndGlyphs">R-Square(COD)</text>
<text x="505.65" y="775.35" font-size="9.2" text-anchor="middle" font-weight="normal" fill="#111" textLength="19.1" lengthAdjust="spacingAndGlyphs">0.86</text>
<line x1="377.30" y1="695.70" x2="377.30" y2="885.20" stroke="#333" stroke-width="1.2"/>
<line x1="376.70" y1="884.60" x2="683.80" y2="884.60" stroke="#333" stroke-width="1.2"/>
<line x1="373.50" y1="884.50" x2="377.30" y2="884.50" stroke="#333" stroke-width="1.0"/>
<text x="370.70" y="888.24" font-size="13.0" text-anchor="end" font-weight="normal" fill="#222" >5</text>
<line x1="373.50" y1="865.50" x2="377.30" y2="865.50" stroke="#333" stroke-width="1.0"/>
<text x="370.70" y="869.42" font-size="13.0" text-anchor="end" font-weight="normal" fill="#222" >10</text>
<line x1="373.50" y1="846.50" x2="377.30" y2="846.50" stroke="#333" stroke-width="1.0"/>
<text x="370.70" y="850.60" font-size="13.0" text-anchor="end" font-weight="normal" fill="#222" >15</text>
<line x1="373.50" y1="827.50" x2="377.30" y2="827.50" stroke="#333" stroke-width="1.0"/>
<text x="370.70" y="831.78" font-size="13.0" text-anchor="end" font-weight="normal" fill="#222" >20</text>
<line x1="373.50" y1="808.50" x2="377.30" y2="808.50" stroke="#333" stroke-width="1.0"/>
<text x="370.70" y="812.96" font-size="13.0" text-anchor="end" font-weight="normal" fill="#222" >25</text>
<line x1="373.50" y1="790.50" x2="377.30" y2="790.50" stroke="#333" stroke-width="1.0"/>
<text x="370.70" y="794.14" font-size="13.0" text-anchor="end" font-weight="normal" fill="#222" >30</text>
<line x1="373.50" y1="771.50" x2="377.30" y2="771.50" stroke="#333" stroke-width="1.0"/>
<text x="370.70" y="775.32" font-size="13.0" text-anchor="end" font-weight="normal" fill="#222" >35</text>
<line x1="373.50" y1="752.50" x2="377.30" y2="752.50" stroke="#333" stroke-width="1.0"/>
<text x="370.70" y="756.50" font-size="13.0" text-anchor="end" font-weight="normal" fill="#222" >40</text>
<line x1="373.50" y1="733.50" x2="377.30" y2="733.50" stroke="#333" stroke-width="1.0"/>
<text x="370.70" y="737.68" font-size="13.0" text-anchor="end" font-weight="normal" fill="#222" >45</text>
<line x1="373.50" y1="714.50" x2="377.30" y2="714.50" stroke="#333" stroke-width="1.0"/>
<text x="370.70" y="718.86" font-size="13.0" text-anchor="end" font-weight="normal" fill="#222" >50</text>
<line x1="373.50" y1="696.50" x2="377.30" y2="696.50" stroke="#333" stroke-width="1.0"/>
<text x="370.70" y="700.04" font-size="13.0" text-anchor="end" font-weight="normal" fill="#222" >55</text>
<line x1="375.10" y1="874.50" x2="377.30" y2="874.50" stroke="#333" stroke-width="1.0"/>
<line x1="375.10" y1="855.50" x2="377.30" y2="855.50" stroke="#333" stroke-width="1.0"/>
<line x1="375.10" y1="837.50" x2="377.30" y2="837.50" stroke="#333" stroke-width="1.0"/>
<line x1="375.10" y1="818.50" x2="377.30" y2="818.50" stroke="#333" stroke-width="1.0"/>
<line x1="375.10" y1="799.50" x2="377.30" y2="799.50" stroke="#333" stroke-width="1.0"/>
<line x1="375.10" y1="780.50" x2="377.30" y2="780.50" stroke="#333" stroke-width="1.0"/>
<line x1="375.10" y1="761.50" x2="377.30" y2="761.50" stroke="#333" stroke-width="1.0"/>
<line x1="375.10" y1="743.50" x2="377.30" y2="743.50" stroke="#333" stroke-width="1.0"/>
<line x1="375.10" y1="724.50" x2="377.30" y2="724.50" stroke="#333" stroke-width="1.0"/>
<line x1="375.10" y1="705.50" x2="377.30" y2="705.50" stroke="#333" stroke-width="1.0"/>
<line x1="377.50" y1="884.60" x2="377.50" y2="888.40" stroke="#333" stroke-width="1.0"/>
<text x="377.30" y="900.60" font-size="13.0" text-anchor="middle" font-weight="normal" fill="#222" >0.2</text>
<line x1="433.50" y1="884.60" x2="433.50" y2="888.40" stroke="#333" stroke-width="1.0"/>
<text x="433.00" y="900.60" font-size="13.0" text-anchor="middle" font-weight="normal" fill="#222" >0.3</text>
<line x1="488.50" y1="884.60" x2="488.50" y2="888.40" stroke="#333" stroke-width="1.0"/>
<text x="488.70" y="900.60" font-size="13.0" text-anchor="middle" font-weight="normal" fill="#222" >0.4</text>
<line x1="544.50" y1="884.60" x2="544.50" y2="888.40" stroke="#333" stroke-width="1.0"/>
<text x="544.40" y="900.60" font-size="13.0" text-anchor="middle" font-weight="normal" fill="#222" >0.5</text>
<line x1="600.50" y1="884.60" x2="600.50" y2="888.40" stroke="#333" stroke-width="1.0"/>
<text x="600.10" y="900.60" font-size="13.0" text-anchor="middle" font-weight="normal" fill="#222" >0.6</text>
<line x1="655.50" y1="884.60" x2="655.50" y2="888.40" stroke="#333" stroke-width="1.0"/>
<text x="655.80" y="900.60" font-size="13.0" text-anchor="middle" font-weight="normal" fill="#222" >0.7</text>
<line x1="405.50" y1="884.60" x2="405.50" y2="886.80" stroke="#333" stroke-width="1.0"/>
<line x1="460.50" y1="884.60" x2="460.50" y2="886.80" stroke="#333" stroke-width="1.0"/>
<line x1="516.50" y1="884.60" x2="516.50" y2="886.80" stroke="#333" stroke-width="1.0"/>
<line x1="572.50" y1="884.60" x2="572.50" y2="886.80" stroke="#333" stroke-width="1.0"/>
<line x1="627.50" y1="884.60" x2="627.50" y2="886.80" stroke="#333" stroke-width="1.0"/>
<line x1="683.50" y1="884.60" x2="683.50" y2="886.80" stroke="#333" stroke-width="1.0"/>
<circle cx="407.1" cy="865.1" r="4.2" fill="#0a22c0" fill-opacity="0.82"/>
<circle cx="410.1" cy="865.1" r="4.2" fill="#0a22c0" fill-opacity="0.82"/>
<circle cx="408.5" cy="873.0" r="4.2" fill="#0a22c0" fill-opacity="0.82"/>
<circle cx="422.9" cy="857.6" r="4.2" fill="#0a22c0" fill-opacity="0.82"/>
<circle cx="429.3" cy="861.6" r="4.2" fill="#0a22c0" fill-opacity="0.82"/>
<circle cx="435.0" cy="857.6" r="4.2" fill="#0a22c0" fill-opacity="0.82"/>
<circle cx="479.2" cy="808.6" r="4.2" fill="#0a22c0" fill-opacity="0.82"/>
<circle cx="480.9" cy="823.1" r="4.2" fill="#0a22c0" fill-opacity="0.82"/>
<circle cx="487.4" cy="827.7" r="4.2" fill="#0a22c0" fill-opacity="0.82"/>
<circle cx="492.8" cy="801.1" r="4.2" fill="#0a22c0" fill-opacity="0.82"/>
<circle cx="497.9" cy="808.6" r="4.2" fill="#0a22c0" fill-opacity="0.82"/>
<circle cx="499.6" cy="801.1" r="4.2" fill="#0a22c0" fill-opacity="0.82"/>
<circle cx="503.5" cy="797.4" r="4.2" fill="#0a22c0" fill-opacity="0.82"/>
<circle cx="506.1" cy="801.3" r="4.2" fill="#0a22c0" fill-opacity="0.82"/>
<circle cx="512.0" cy="793.4" r="4.2" fill="#0a22c0" fill-opacity="0.82"/>
<circle cx="512.6" cy="785.7" r="4.2" fill="#0a22c0" fill-opacity="0.82"/>
<circle cx="521.3" cy="789.7" r="4.2" fill="#0a22c0" fill-opacity="0.82"/>
<circle cx="524.8" cy="797.4" r="4.2" fill="#0a22c0" fill-opacity="0.82"/>
<circle cx="529.9" cy="797.4" r="4.2" fill="#0a22c0" fill-opacity="0.82"/>
<circle cx="532.5" cy="800.9" r="4.2" fill="#0a22c0" fill-opacity="0.82"/>
<circle cx="529.9" cy="812.3" r="4.2" fill="#0a22c0" fill-opacity="0.82"/>
<circle cx="538.8" cy="804.8" r="4.2" fill="#0a22c0" fill-opacity="0.82"/>
<circle cx="540.9" cy="797.4" r="4.2" fill="#0a22c0" fill-opacity="0.82"/>
<circle cx="550.7" cy="797.4" r="4.2" fill="#0a22c0" fill-opacity="0.82"/>
<circle cx="560.8" cy="782.2" r="4.2" fill="#0a22c0" fill-opacity="0.82"/>
<circle cx="567.3" cy="785.7" r="4.2" fill="#0a22c0" fill-opacity="0.82"/>
<circle cx="569.6" cy="778.7" r="4.2" fill="#0a22c0" fill-opacity="0.82"/>
<circle cx="571.5" cy="778.7" r="4.2" fill="#0a22c0" fill-opacity="0.82"/>
<circle cx="577.8" cy="767.2" r="4.2" fill="#0a22c0" fill-opacity="0.82"/>
<circle cx="608.7" cy="767.2" r="4.2" fill="#0a22c0" fill-opacity="0.82"/>
<circle cx="612.3" cy="767.2" r="4.2" fill="#0a22c0" fill-opacity="0.82"/>
<circle cx="617.5" cy="771.3" r="4.2" fill="#0a22c0" fill-opacity="0.82"/>
<circle cx="603.3" cy="778.7" r="4.2" fill="#0a22c0" fill-opacity="0.82"/>
<circle cx="605.4" cy="778.7" r="4.2" fill="#0a22c0" fill-opacity="0.82"/>
<circle cx="608.7" cy="778.7" r="4.2" fill="#0a22c0" fill-opacity="0.82"/>
<circle cx="608.0" cy="786.0" r="4.2" fill="#0a22c0" fill-opacity="0.82"/>
<circle cx="627.7" cy="771.1" r="4.2" fill="#0a22c0" fill-opacity="0.82"/>
<circle cx="636.3" cy="782.3" r="4.2" fill="#0a22c0" fill-opacity="0.82"/>
<circle cx="643.5" cy="752.1" r="4.2" fill="#0a22c0" fill-opacity="0.82"/>
<circle cx="641.5" cy="759.9" r="4.2" fill="#0a22c0" fill-opacity="0.82"/>
<circle cx="646.1" cy="767.2" r="4.2" fill="#0a22c0" fill-opacity="0.82"/>
<line x1="407.10" y1="854.30" x2="646.10" y2="754.50" stroke="#111" stroke-width="1.3"/>
<text x="680.70" y="713.20" text-anchor="end" fill="#111"><tspan font-size="16.5" font-weight="bold">h</tspan><tspan font-size="12.5">)</tspan></text>
<text x="159.50" y="244.10" font-size="12.8" text-anchor="start" font-weight="normal" fill="#222" textLength="87.3" lengthAdjust="spacingAndGlyphs">Linear SHI score</text>
<text x="500.40" y="241.80" font-size="12.8" text-anchor="start" font-weight="normal" fill="#222" textLength="87.4" lengthAdjust="spacingAndGlyphs">Linear SHI score</text>
<text x="159.10" y="468.20" font-size="12.8" text-anchor="start" font-weight="normal" fill="#222" textLength="87.2" lengthAdjust="spacingAndGlyphs">Linear SHI score</text>
<text x="501.40" y="465.60" font-size="12.8" text-anchor="start" font-weight="normal" fill="#222" textLength="87.6" lengthAdjust="spacingAndGlyphs">Linear SHI score</text>
<text x="150.40" y="693.50" font-size="12.8" text-anchor="start" font-weight="normal" fill="#222" textLength="99.1" lengthAdjust="spacingAndGlyphs">Non-liner SHI core</text>
<text x="493.00" y="691.70" font-size="12.8" text-anchor="start" font-weight="normal" fill="#222" textLength="115.4" lengthAdjust="spacingAndGlyphs">Non-lineear SHI score</text>
<text x="151.30" y="923.70" font-size="12.8" text-anchor="start" font-weight="normal" fill="#222" textLength="103.5" lengthAdjust="spacingAndGlyphs">Non-liner SHI score</text>
<text x="471.00" y="922.30" font-size="12.8" text-anchor="start" font-weight="normal" fill="#222" textLength="110.1" lengthAdjust="spacingAndGlyphs">Non-linear SHI score</text>
<text transform="translate(10.70,113.50) rotate(-90)" x="0" y="0" font-size="12.8" text-anchor="middle" fill="#222" textLength="124.6" lengthAdjust="spacingAndGlyphs">Wet weight of wheat (g)</text>
<text transform="translate(358.40,113.20) rotate(-90)" x="0" y="0" font-size="12.8" text-anchor="middle" fill="#222" textLength="122.7" lengthAdjust="spacingAndGlyphs">Dry weight of wheat (g)</text>
<text transform="translate(11.80,341.75) rotate(-90)" x="0" y="0" font-size="12.8" text-anchor="middle" fill="#222" textLength="143.7" lengthAdjust="spacingAndGlyphs">Root volum of wheat (mm<tspan dy="-4.6" font-size="8.3">3</tspan><tspan dy="4.6">)</tspan></text>
<text transform="translate(352.90,339.20) rotate(-90)" x="0" y="0" font-size="12.8" text-anchor="middle" fill="#222" textLength="138.1" lengthAdjust="spacingAndGlyphs">Root length of wheat (mm)</text>
<text transform="translate(10.70,566.90) rotate(-90)" x="0" y="0" font-size="12.8" text-anchor="middle" fill="#222" textLength="124.3" lengthAdjust="spacingAndGlyphs">Wet weight of wheat (g)</text>
<text transform="translate(359.50,563.50) rotate(-90)" x="0" y="0" font-size="12.8" text-anchor="middle" fill="#222" textLength="122.8" lengthAdjust="spacingAndGlyphs">Dry weight of wheat (g)</text>
<text transform="translate(11.80,791.10) rotate(-90)" x="0" y="0" font-size="12.8" text-anchor="middle" fill="#222" textLength="143.4" lengthAdjust="spacingAndGlyphs">Root volum of wheat (mm<tspan dy="-4.6" font-size="8.3">3</tspan><tspan dy="4.6">)</tspan></text>
<text transform="translate(352.90,789.55) rotate(-90)" x="0" y="0" font-size="12.8" text-anchor="middle" fill="#222" textLength="138.1" lengthAdjust="spacingAndGlyphs">Root length of wheat (mm)</text>
<text x="132.30" y="10.20" font-size="10.7" text-anchor="start" font-weight="normal" fill="#222" textLength="46.8" lengthAdjust="spacingAndGlyphs">Linear SHI</text>
<circle cx="188.35" cy="5.9" r="5.1" fill="#d51cff" fill-opacity="0.7"/>
<text x="206.20" y="10.20" font-size="10.7" text-anchor="start" font-weight="normal" fill="#222" textLength="65.7" lengthAdjust="spacingAndGlyphs">Non-linear SHI</text>
<circle cx="280.75" cy="6.5" r="5.1" fill="#0a22c0" fill-opacity="0.82"/>
</svg>
</body></html>
